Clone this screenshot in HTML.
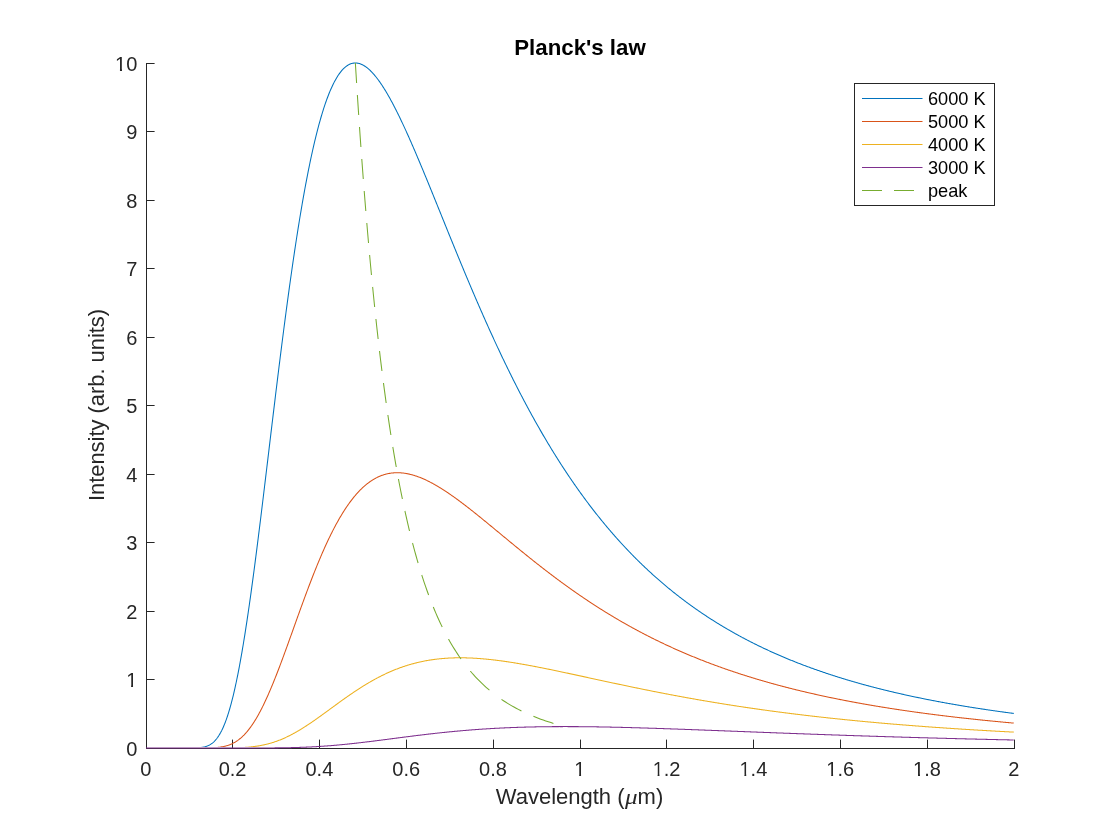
<!DOCTYPE html>
<html lang="en"><head><meta charset="utf-8"><title>Planck's law</title>
<style>html,body{margin:0;padding:0;background:#fff;}body{width:1120px;height:840px;overflow:hidden;}svg{display:block;}</style>
</head><body>
<svg width="1120" height="840" viewBox="0 0 1120 840">
<rect width="1120" height="840" fill="#fff"/>
<g fill="#262626" shape-rendering="crispEdges">
<rect x="146" y="63" width="1" height="686"/>
<rect x="146" y="748" width="869" height="1"/>
</g>
<g stroke="#262626" stroke-width="1">
<line x1="232.50" y1="739.6" x2="232.50" y2="748.5"/>
<line x1="319.50" y1="739.6" x2="319.50" y2="748.5"/>
<line x1="406.50" y1="739.6" x2="406.50" y2="748.5"/>
<line x1="493.50" y1="739.6" x2="493.50" y2="748.5"/>
<line x1="580.50" y1="739.6" x2="580.50" y2="748.5"/>
<line x1="666.50" y1="739.6" x2="666.50" y2="748.5"/>
<line x1="753.50" y1="739.6" x2="753.50" y2="748.5"/>
<line x1="840.50" y1="739.6" x2="840.50" y2="748.5"/>
<line x1="927.50" y1="739.6" x2="927.50" y2="748.5"/>
<line x1="1014.50" y1="739.6" x2="1014.50" y2="748.5"/>
<line x1="146.5" y1="679.50" x2="154.6" y2="679.50"/>
<line x1="146.5" y1="611.50" x2="154.6" y2="611.50"/>
<line x1="146.5" y1="542.50" x2="154.6" y2="542.50"/>
<line x1="146.5" y1="474.50" x2="154.6" y2="474.50"/>
<line x1="146.5" y1="405.50" x2="154.6" y2="405.50"/>
<line x1="146.5" y1="337.50" x2="154.6" y2="337.50"/>
<line x1="146.5" y1="268.50" x2="154.6" y2="268.50"/>
<line x1="146.5" y1="200.50" x2="154.6" y2="200.50"/>
<line x1="146.5" y1="131.50" x2="154.6" y2="131.50"/>
<line x1="146.5" y1="63.50" x2="154.6" y2="63.50"/>
</g>
<defs><clipPath id="cb" clipPathUnits="userSpaceOnUse"><rect x="0" y="0" width="1120" height="747"/></clipPath></defs>
<g clip-path="url(#cb)">
<polyline points="146.00,748.00 146.00,748.00 146.37,748.00 146.95,748.00 147.53,748.00 148.11,748.00 148.69,748.00 149.27,748.00 149.85,748.00 150.43,748.00 151.00,748.00 151.58,748.00 152.16,748.00 152.74,748.00 153.32,748.00 153.90,748.00 154.48,748.00 155.06,748.00 155.64,748.00 156.22,748.00 156.79,748.00 157.37,748.00 157.95,748.00 158.53,748.00 159.11,748.00 159.69,748.00 160.27,748.00 160.85,748.00 161.43,748.00 162.01,748.00 162.59,748.00 163.16,748.00 163.74,748.00 164.32,748.00 164.90,748.00 165.48,748.00 166.06,748.00 166.64,748.00 167.22,748.00 167.80,748.00 168.38,748.00 168.95,748.00 169.53,748.00 170.11,748.00 170.69,748.00 171.27,748.00 171.85,748.00 172.43,748.00 173.01,748.00 173.59,748.00 174.17,748.00 174.74,748.00 175.32,748.00 175.90,748.00 176.48,748.00 177.06,748.00 177.64,748.00 178.22,748.00 178.80,748.00 179.38,748.00 179.96,748.00 180.53,748.00 181.11,748.00 181.69,748.00 182.27,748.00 182.85,748.00 183.43,748.00 184.01,748.00 184.59,748.00 185.17,748.00 185.75,748.00 186.33,748.00 186.90,748.00 187.48,748.00 188.06,747.99 188.64,747.99 189.22,747.99 189.80,747.99 190.38,747.98 190.96,747.98 191.54,747.97 192.12,747.97 192.69,747.96 193.27,747.95 193.85,747.94 194.43,747.93 195.01,747.91 195.59,747.89 196.17,747.87 196.75,747.84 197.33,747.81 197.91,747.78 198.48,747.74 199.06,747.70 199.64,747.64 200.22,747.59 200.80,747.52 201.38,747.44 201.96,747.36 202.54,747.27 203.12,747.16 203.70,747.04 204.27,746.91 204.85,746.77 205.43,746.61 206.01,746.43 206.59,746.24 207.17,746.02 207.75,745.79 208.33,745.54 208.91,745.26 209.49,744.96 210.07,744.64 210.64,744.28 211.22,743.90 211.80,743.49 212.38,743.05 212.96,742.58 213.54,742.07 214.12,741.53 214.70,740.95 215.28,740.34 215.86,739.68 216.43,738.98 217.01,738.24 217.59,737.46 218.17,736.63 218.75,735.76 219.33,734.83 219.91,733.86 220.49,732.84 221.07,731.76 221.65,730.64 222.22,729.45 222.80,728.22 223.38,726.93 223.96,725.58 224.54,724.17 225.12,722.70 225.70,721.17 226.28,719.58 226.86,717.93 227.44,716.22 228.01,714.45 228.59,712.61 229.17,710.70 229.75,708.74 230.33,706.70 230.91,704.61 231.49,702.44 232.07,700.21 232.65,697.92 233.23,695.56 233.81,693.13 234.38,690.64 234.96,688.08 235.54,685.45 236.12,682.76 236.70,680.01 237.28,677.18 237.86,674.30 238.44,671.35 239.02,668.33 239.60,665.26 240.17,662.12 240.75,658.91 241.33,655.65 241.91,652.33 242.49,648.94 243.07,645.50 243.65,642.00 244.23,638.44 244.81,634.82 245.39,631.15 245.96,627.43 246.54,623.65 247.12,619.82 247.70,615.94 248.28,612.01 248.86,608.03 249.44,604.00 250.02,599.93 250.60,595.81 251.18,591.64 251.75,587.44 252.33,583.19 252.91,578.91 253.49,574.58 254.07,570.22 254.65,565.82 255.23,561.39 255.81,556.93 256.39,552.43 256.97,547.91 257.54,543.35 258.12,538.77 258.70,534.16 259.28,529.53 259.86,524.88 260.44,520.20 261.02,515.50 261.60,510.79 262.18,506.06 262.76,501.31 263.34,496.55 263.91,491.77 264.49,486.98 265.07,482.18 265.65,477.38 266.23,472.56 266.81,467.74 267.39,462.92 267.97,458.09 268.55,453.26 269.13,448.42 269.70,443.59 270.28,438.76 270.86,433.93 271.44,429.11 272.02,424.29 272.60,419.48 273.18,414.67 273.76,409.88 274.34,405.09 274.92,400.32 275.49,395.55 276.07,390.80 276.65,386.07 277.23,381.35 277.81,376.65 278.39,371.96 278.97,367.29 279.55,362.64 280.13,358.01 280.71,353.41 281.28,348.82 281.86,344.26 282.44,339.72 283.02,335.21 283.60,330.72 284.18,326.26 284.76,321.82 285.34,317.41 285.92,313.03 286.50,308.68 287.08,304.36 287.65,300.07 288.23,295.81 288.81,291.59 289.39,287.39 289.97,283.23 290.55,279.10 291.13,275.01 291.71,270.95 292.29,266.92 292.87,262.93 293.44,258.98 294.02,255.06 294.60,251.18 295.18,247.34 295.76,243.54 296.34,239.77 296.92,236.04 297.50,232.35 298.08,228.70 298.66,225.09 299.23,221.52 299.81,217.98 300.39,214.49 300.97,211.04 301.55,207.63 302.13,204.26 302.71,200.93 303.29,197.65 303.87,194.40 304.45,191.19 305.02,188.03 305.60,184.91 306.18,181.83 306.76,178.79 307.34,175.80 307.92,172.84 308.50,169.93 309.08,167.06 309.66,164.24 310.24,161.45 310.82,158.71 311.39,156.01 311.97,153.35 312.55,150.74 313.13,148.16 313.71,145.63 314.29,143.14 314.87,140.69 315.45,138.29 316.03,135.93 316.61,133.60 317.18,131.32 317.76,129.09 318.34,126.89 318.92,124.73 319.50,122.62 320.08,120.54 320.66,118.51 321.24,116.52 321.82,114.57 322.40,112.66 322.97,110.79 323.55,108.96 324.13,107.17 324.71,105.42 325.29,103.70 325.87,102.03 326.45,100.40 327.03,98.80 327.61,97.25 328.19,95.73 328.76,94.25 329.34,92.81 329.92,91.41 330.50,90.04 331.08,88.71 331.66,87.42 332.24,86.17 332.82,84.95 333.40,83.77 333.98,82.62 334.56,81.51 335.13,80.44 335.71,79.40 336.29,78.39 336.87,77.42 337.45,76.49 338.03,75.59 338.61,74.72 339.19,73.88 339.77,73.08 340.35,72.32 340.92,71.58 341.50,70.88 342.08,70.21 342.66,69.57 343.24,68.96 343.82,68.39 344.40,67.84 344.98,67.33 345.56,66.85 346.14,66.39 346.71,65.97 347.29,65.57 347.87,65.21 348.45,64.87 349.03,64.57 349.61,64.29 350.19,64.04 350.77,63.82 351.35,63.62 351.93,63.45 352.50,63.31 353.08,63.20 353.66,63.11 354.24,63.05 354.82,63.01 355.40,63.00 355.98,63.01 356.56,63.05 357.14,63.12 357.72,63.21 358.30,63.32 358.87,63.46 359.45,63.61 360.03,63.80 360.61,64.00 361.19,64.23 361.77,64.48 362.35,64.76 362.93,65.05 363.51,65.37 364.09,65.71 364.66,66.06 365.24,66.44 365.82,66.84 366.40,67.26 366.98,67.70 367.56,68.16 368.14,68.64 368.72,69.14 369.30,69.66 369.88,70.20 370.45,70.75 371.03,71.32 371.61,71.91 372.19,72.52 372.77,73.15 373.35,73.79 373.93,74.45 374.51,75.13 375.09,75.82 375.67,76.53 376.24,77.25 376.82,77.99 377.40,78.75 377.98,79.52 378.56,80.31 379.14,81.11 379.72,81.92 380.30,82.75 380.88,83.60 381.46,84.46 382.04,85.33 382.61,86.21 383.19,87.11 383.77,88.02 384.35,88.95 384.93,89.88 385.51,90.83 386.09,91.80 386.67,92.77 387.25,93.75 387.83,94.75 388.40,95.76 388.98,96.78 389.56,97.81 390.14,98.85 390.72,99.90 391.30,100.96 391.88,102.04 392.46,103.12 393.04,104.21 393.62,105.31 394.19,106.43 394.77,107.55 395.35,108.68 395.93,109.82 396.51,110.96 397.09,112.12 397.67,113.29 398.25,114.46 398.83,115.64 399.41,116.83 399.98,118.03 400.56,119.23 401.14,120.44 401.72,121.66 402.30,122.89 402.88,124.12 403.46,125.36 404.04,126.61 404.62,127.87 405.20,129.13 405.78,130.39 406.35,131.66 406.93,132.94 407.51,134.23 408.09,135.52 408.67,136.81 409.25,138.11 409.83,139.42 410.41,140.73 410.99,142.05 411.57,143.37 412.14,144.70 412.72,146.03 413.30,147.36 413.88,148.70 414.46,150.05 415.04,151.40 415.62,152.75 416.20,154.10 416.78,155.46 417.36,156.83 417.93,158.19 418.51,159.57 419.09,160.94 419.67,162.32 420.25,163.70 420.83,165.08 421.41,166.47 421.99,167.86 422.57,169.25 423.15,170.64 423.72,172.04 424.30,173.44 424.88,174.84 425.46,176.24 426.04,177.65 426.62,179.06 427.20,180.47 427.78,181.88 428.36,183.29 428.94,184.71 429.52,186.12 430.09,187.54 430.67,188.96 431.25,190.38 431.83,191.80 432.41,193.23 432.99,194.65 433.57,196.08 434.15,197.50 434.73,198.93 435.31,200.36 435.88,201.79 436.46,203.22 437.04,204.65 437.62,206.08 438.20,207.51 438.78,208.94 439.36,210.37 439.94,211.80 440.52,213.23 441.10,214.66 441.67,216.10 442.25,217.53 442.83,218.96 443.41,220.39 443.99,221.82 444.57,223.25 445.15,224.68 445.73,226.11 446.31,227.54 446.89,228.97 447.46,230.40 448.04,231.83 448.62,233.25 449.20,234.68 449.78,236.10 450.36,237.53 450.94,238.95 451.52,240.38 452.10,241.80 452.68,243.22 453.26,244.64 453.83,246.05 454.41,247.47 454.99,248.89 455.57,250.30 456.15,251.72 456.73,253.13 457.31,254.54 457.89,255.95 458.47,257.35 459.05,258.76 459.62,260.16 460.20,261.57 460.78,262.97 461.36,264.37 461.94,265.76 462.52,267.16 463.10,268.55 463.68,269.94 464.26,271.33 464.84,272.72 465.41,274.11 465.99,275.49 466.57,276.88 467.15,278.26 467.73,279.63 468.31,281.01 468.89,282.38 469.47,283.76 470.05,285.12 470.63,286.49 471.20,287.86 471.78,289.22 472.36,290.58 472.94,291.94 473.52,293.29 474.10,294.65 474.68,296.00 475.26,297.35 475.84,298.69 476.42,300.04 476.99,301.38 477.57,302.72 478.15,304.05 478.73,305.39 479.31,306.72 479.89,308.05 480.47,309.37 481.05,310.70 481.63,312.02 482.21,313.33 482.79,314.65 483.36,315.96 483.94,317.27 484.52,318.58 485.10,319.88 485.68,321.18 486.26,322.48 486.84,323.78 487.42,325.07 488.00,326.36 488.58,327.65 489.15,328.93 489.73,330.21 490.31,331.49 490.89,332.77 491.47,334.04 492.05,335.31 492.63,336.58 493.21,337.84 493.79,339.10 494.37,340.36 494.94,341.62 495.52,342.87 496.10,344.12 496.68,345.36 497.26,346.61 497.84,347.85 498.42,349.08 499.00,350.32 499.58,351.55 500.16,352.77 500.73,354.00 501.31,355.22 501.89,356.44 502.47,357.65 503.05,358.87 503.63,360.08 504.21,361.28 504.79,362.49 505.37,363.69 505.95,364.88 506.53,366.08 507.10,367.27 507.68,368.45 508.26,369.64 508.84,370.82 509.42,372.00 510.00,373.17 510.58,374.34 511.16,375.51 511.74,376.68 512.32,377.84 512.89,379.00 513.47,380.15 514.05,381.30 514.63,382.45 515.21,383.60 515.79,384.74 516.37,385.88 516.95,387.02 517.53,388.15 518.11,389.28 518.68,390.41 519.26,391.53 519.84,392.65 520.42,393.77 521.00,394.88 521.58,396.00 522.16,397.10 522.74,398.21 523.32,399.31 523.90,400.41 524.47,401.50 525.05,402.59 525.63,403.68 526.21,404.77 526.79,405.85 527.37,406.93 527.95,408.01 528.53,409.08 529.11,410.15 529.69,411.21 530.27,412.28 530.84,413.34 531.42,414.39 532.00,415.45 532.58,416.50 533.16,417.55 533.74,418.59 534.32,419.63 534.90,420.67 535.48,421.70 536.06,422.73 536.63,423.76 537.21,424.79 537.79,425.81 538.37,426.83 538.95,427.84 539.53,428.86 540.11,429.87 540.69,430.87 541.27,431.88 541.85,432.88 542.42,433.87 543.00,434.87 543.58,435.86 544.16,436.85 544.74,437.83 545.32,438.81 545.90,439.79 546.48,440.77 547.06,441.74 547.64,442.71 548.21,443.68 548.79,444.64 549.37,445.60 549.95,446.56 550.53,447.51 551.11,448.46 551.69,449.41 552.27,450.35 552.85,451.30 553.43,452.24 554.01,453.17 554.58,454.10 555.16,455.03 555.74,455.96 556.32,456.88 556.90,457.81 557.48,458.72 558.06,459.64 558.64,460.55 559.22,461.46 559.80,462.37 560.37,463.27 560.95,464.17 561.53,465.07 562.11,465.96 562.69,466.85 563.27,467.74 563.85,468.63 564.43,469.51 565.01,470.39 565.59,471.27 566.16,472.14 566.74,473.01 567.32,473.88 567.90,474.75 568.48,475.61 569.06,476.47 569.64,477.33 570.22,478.18 570.80,479.03 571.38,479.88 571.95,480.73 572.53,481.57 573.11,482.41 573.69,483.25 574.27,484.08 574.85,484.91 575.43,485.74 576.01,486.57 576.59,487.39 577.17,488.21 577.75,489.03 578.32,489.85 578.90,490.66 579.48,491.47 580.06,492.28 580.64,493.08 581.22,493.88 581.80,494.68 582.38,495.48 582.96,496.27 583.54,497.06 584.11,497.85 584.69,498.64 585.27,499.42 585.85,500.20 586.43,500.98 587.01,501.76 587.59,502.53 588.17,503.30 588.75,504.07 589.33,504.83 589.90,505.59 590.48,506.35 591.06,507.11 591.64,507.86 592.22,508.62 592.80,509.36 593.38,510.11 593.96,510.86 594.54,511.60 595.12,512.34 595.69,513.07 596.27,513.81 596.85,514.54 597.43,515.27 598.01,516.00 598.59,516.72 599.17,517.44 599.75,518.16 600.33,518.88 600.91,519.59 601.49,520.31 602.06,521.02 602.64,521.72 603.22,522.43 603.80,523.13 604.38,523.83 604.96,524.53 605.54,525.22 606.12,525.92 606.70,526.61 607.28,527.29 607.85,527.98 608.43,528.66 609.01,529.34 609.59,530.02 610.17,530.70 610.75,531.37 611.33,532.05 611.91,532.71 612.49,533.38 613.07,534.05 613.64,534.71 614.22,535.37 614.80,536.03 615.38,536.68 615.96,537.34 616.54,537.99 617.12,538.64 617.70,539.28 618.28,539.93 618.86,540.57 619.43,541.21 620.01,541.85 620.59,542.49 621.17,543.12 621.75,543.75 622.33,544.38 622.91,545.01 623.49,545.63 624.07,546.25 624.65,546.87 625.23,547.49 625.80,548.11 626.38,548.72 626.96,549.34 627.54,549.95 628.12,550.55 628.70,551.16 629.28,551.76 629.86,552.36 630.44,552.96 631.02,553.56 631.59,554.16 632.17,554.75 632.75,555.34 633.33,555.93 633.91,556.52 634.49,557.10 635.07,557.69 635.65,558.27 636.23,558.85 636.81,559.42 637.38,560.00 637.96,560.57 638.54,561.14 639.12,561.71 639.70,562.28 640.28,562.85 640.86,563.41 641.44,563.97 642.02,564.53 642.60,565.09 643.17,565.64 643.75,566.20 644.33,566.75 644.91,567.30 645.49,567.85 646.07,568.39 646.65,568.94 647.23,569.48 647.81,570.02 648.39,570.56 648.97,571.10 649.54,571.63 650.12,572.16 650.70,572.70 651.28,573.23 651.86,573.75 652.44,574.28 653.02,574.80 653.60,575.32 654.18,575.85 654.76,576.36 655.33,576.88 655.91,577.40 656.49,577.91 657.07,578.42 657.65,578.93 658.23,579.44 658.81,579.94 659.39,580.45 659.97,580.95 660.55,581.45 661.12,581.95 661.70,582.45 662.28,582.94 662.86,583.44 663.44,583.93 664.02,584.42 664.60,584.91 665.18,585.40 665.76,585.88 666.34,586.37 666.91,586.85 667.49,587.33 668.07,587.81 668.65,588.29 669.23,588.76 669.81,589.24 670.39,589.71 670.97,590.18 671.55,590.65 672.13,591.12 672.71,591.58 673.28,592.05 673.86,592.51 674.44,592.97 675.02,593.43 675.60,593.89 676.18,594.35 676.76,594.80 677.34,595.25 677.92,595.71 678.50,596.16 679.07,596.61 679.65,597.05 680.23,597.50 680.81,597.94 681.39,598.39 681.97,598.83 682.55,599.27 683.13,599.70 683.71,600.14 684.29,600.58 684.86,601.01 685.44,601.44 686.02,601.87 686.60,602.30 687.18,602.73 687.76,603.16 688.34,603.58 688.92,604.00 689.50,604.43 690.08,604.85 690.65,605.27 691.23,605.68 691.81,606.10 692.39,606.51 692.97,606.93 693.55,607.34 694.13,607.75 694.71,608.16 695.29,608.57 695.87,608.97 696.44,609.38 697.02,609.78 697.60,610.18 698.18,610.58 698.76,610.98 699.34,611.38 699.92,611.78 700.50,612.17 701.08,612.57 701.66,612.96 702.24,613.35 702.81,613.74 703.39,614.13 703.97,614.52 704.55,614.91 705.13,615.29 705.71,615.67 706.29,616.06 706.87,616.44 707.45,616.82 708.03,617.19 708.60,617.57 709.18,617.95 709.76,618.32 710.34,618.70 710.92,619.07 711.50,619.44 712.08,619.81 712.66,620.18 713.24,620.54 713.82,620.91 714.39,621.27 714.97,621.64 715.55,622.00 716.13,622.36 716.71,622.72 717.29,623.08 717.87,623.43 718.45,623.79 719.03,624.15 719.61,624.50 720.18,624.85 720.76,625.20 721.34,625.55 721.92,625.90 722.50,626.25 723.08,626.60 723.66,626.94 724.24,627.29 724.82,627.63 725.40,627.97 725.98,628.31 726.55,628.65 727.13,628.99 727.71,629.33 728.29,629.66 728.87,630.00 729.45,630.33 730.03,630.67 730.61,631.00 731.19,631.33 731.77,631.66 732.34,631.99 732.92,632.31 733.50,632.64 734.08,632.96 734.66,633.29 735.24,633.61 735.82,633.93 736.40,634.25 736.98,634.57 737.56,634.89 738.13,635.21 738.71,635.53 739.29,635.84 739.87,636.16 740.45,636.47 741.03,636.78 741.61,637.09 742.19,637.41 742.77,637.71 743.35,638.02 743.92,638.33 744.50,638.64 745.08,638.94 745.66,639.25 746.24,639.55 746.82,639.85 747.40,640.15 747.98,640.45 748.56,640.75 749.14,641.05 749.72,641.35 750.29,641.64 750.87,641.94 751.45,642.23 752.03,642.53 752.61,642.82 753.19,643.11 753.77,643.40 754.35,643.69 754.93,643.98 755.51,644.27 756.08,644.55 756.66,644.84 757.24,645.12 757.82,645.41 758.40,645.69 758.98,645.97 759.56,646.25 760.14,646.53 760.72,646.81 761.30,647.09 761.87,647.37 762.45,647.65 763.03,647.92 763.61,648.20 764.19,648.47 764.77,648.74 765.35,649.01 765.93,649.29 766.51,649.56 767.09,649.82 767.66,650.09 768.24,650.36 768.82,650.63 769.40,650.89 769.98,651.16 770.56,651.42 771.14,651.69 771.72,651.95 772.30,652.21 772.88,652.47 773.46,652.73 774.03,652.99 774.61,653.25 775.19,653.50 775.77,653.76 776.35,654.02 776.93,654.27 777.51,654.53 778.09,654.78 778.67,655.03 779.25,655.28 779.82,655.53 780.40,655.78 780.98,656.03 781.56,656.28 782.14,656.53 782.72,656.77 783.30,657.02 783.88,657.27 784.46,657.51 785.04,657.75 785.61,658.00 786.19,658.24 786.77,658.48 787.35,658.72 787.93,658.96 788.51,659.20 789.09,659.44 789.67,659.67 790.25,659.91 790.83,660.15 791.40,660.38 791.98,660.61 792.56,660.85 793.14,661.08 793.72,661.31 794.30,661.54 794.88,661.78 795.46,662.00 796.04,662.23 796.62,662.46 797.20,662.69 797.77,662.92 798.35,663.14 798.93,663.37 799.51,663.59 800.09,663.82 800.67,664.04 801.25,664.26 801.83,664.49 802.41,664.71 802.99,664.93 803.56,665.15 804.14,665.37 804.72,665.58 805.30,665.80 805.88,666.02 806.46,666.23 807.04,666.45 807.62,666.67 808.20,666.88 808.78,667.09 809.35,667.31 809.93,667.52 810.51,667.73 811.09,667.94 811.67,668.15 812.25,668.36 812.83,668.57 813.41,668.78 813.99,668.99 814.57,669.19 815.14,669.40 815.72,669.60 816.30,669.81 816.88,670.01 817.46,670.22 818.04,670.42 818.62,670.62 819.20,670.82 819.78,671.03 820.36,671.23 820.94,671.43 821.51,671.62 822.09,671.82 822.67,672.02 823.25,672.22 823.83,672.42 824.41,672.61 824.99,672.81 825.57,673.00 826.15,673.20 826.73,673.39 827.30,673.58 827.88,673.78 828.46,673.97 829.04,674.16 829.62,674.35 830.20,674.54 830.78,674.73 831.36,674.92 831.94,675.11 832.52,675.29 833.09,675.48 833.67,675.67 834.25,675.85 834.83,676.04 835.41,676.22 835.99,676.41 836.57,676.59 837.15,676.78 837.73,676.96 838.31,677.14 838.88,677.32 839.46,677.50 840.04,677.68 840.62,677.86 841.20,678.04 841.78,678.22 842.36,678.40 842.94,678.58 843.52,678.75 844.10,678.93 844.68,679.10 845.25,679.28 845.83,679.46 846.41,679.63 846.99,679.80 847.57,679.98 848.15,680.15 848.73,680.32 849.31,680.49 849.89,680.66 850.47,680.83 851.04,681.00 851.62,681.17 852.20,681.34 852.78,681.51 853.36,681.68 853.94,681.85 854.52,682.01 855.10,682.18 855.68,682.35 856.26,682.51 856.83,682.68 857.41,682.84 857.99,683.01 858.57,683.17 859.15,683.33 859.73,683.49 860.31,683.66 860.89,683.82 861.47,683.98 862.05,684.14 862.62,684.30 863.20,684.46 863.78,684.62 864.36,684.78 864.94,684.93 865.52,685.09 866.10,685.25 866.68,685.40 867.26,685.56 867.84,685.72 868.42,685.87 868.99,686.03 869.57,686.18 870.15,686.33 870.73,686.49 871.31,686.64 871.89,686.79 872.47,686.95 873.05,687.10 873.63,687.25 874.21,687.40 874.78,687.55 875.36,687.70 875.94,687.85 876.52,688.00 877.10,688.14 877.68,688.29 878.26,688.44 878.84,688.59 879.42,688.73 880.00,688.88 880.57,689.02 881.15,689.17 881.73,689.31 882.31,689.46 882.89,689.60 883.47,689.75 884.05,689.89 884.63,690.03 885.21,690.17 885.79,690.32 886.36,690.46 886.94,690.60 887.52,690.74 888.10,690.88 888.68,691.02 889.26,691.16 889.84,691.30 890.42,691.44 891.00,691.57 891.58,691.71 892.16,691.85 892.73,691.99 893.31,692.12 893.89,692.26 894.47,692.39 895.05,692.53 895.63,692.66 896.21,692.80 896.79,692.93 897.37,693.07 897.95,693.20 898.52,693.33 899.10,693.46 899.68,693.60 900.26,693.73 900.84,693.86 901.42,693.99 902.00,694.12 902.58,694.25 903.16,694.38 903.74,694.51 904.31,694.64 904.89,694.77 905.47,694.90 906.05,695.02 906.63,695.15 907.21,695.28 907.79,695.40 908.37,695.53 908.95,695.66 909.53,695.78 910.10,695.91 910.68,696.03 911.26,696.16 911.84,696.28 912.42,696.41 913.00,696.53 913.58,696.65 914.16,696.77 914.74,696.90 915.32,697.02 915.89,697.14 916.47,697.26 917.05,697.38 917.63,697.50 918.21,697.62 918.79,697.74 919.37,697.86 919.95,697.98 920.53,698.10 921.11,698.22 921.69,698.34 922.26,698.46 922.84,698.57 923.42,698.69 924.00,698.81 924.58,698.92 925.16,699.04 925.74,699.16 926.32,699.27 926.90,699.39 927.48,699.50 928.05,699.62 928.63,699.73 929.21,699.84 929.79,699.96 930.37,700.07 930.95,700.18 931.53,700.30 932.11,700.41 932.69,700.52 933.27,700.63 933.84,700.74 934.42,700.85 935.00,700.96 935.58,701.07 936.16,701.18 936.74,701.29 937.32,701.40 937.90,701.51 938.48,701.62 939.06,701.73 939.63,701.84 940.21,701.94 940.79,702.05 941.37,702.16 941.95,702.27 942.53,702.37 943.11,702.48 943.69,702.58 944.27,702.69 944.85,702.80 945.43,702.90 946.00,703.01 946.58,703.11 947.16,703.21 947.74,703.32 948.32,703.42 948.90,703.52 949.48,703.63 950.06,703.73 950.64,703.83 951.22,703.93 951.79,704.04 952.37,704.14 952.95,704.24 953.53,704.34 954.11,704.44 954.69,704.54 955.27,704.64 955.85,704.74 956.43,704.84 957.01,704.94 957.58,705.04 958.16,705.14 958.74,705.24 959.32,705.33 959.90,705.43 960.48,705.53 961.06,705.63 961.64,705.72 962.22,705.82 962.80,705.92 963.37,706.01 963.95,706.11 964.53,706.21 965.11,706.30 965.69,706.40 966.27,706.49 966.85,706.59 967.43,706.68 968.01,706.77 968.59,706.87 969.17,706.96 969.74,707.05 970.32,707.15 970.90,707.24 971.48,707.33 972.06,707.43 972.64,707.52 973.22,707.61 973.80,707.70 974.38,707.79 974.96,707.88 975.53,707.97 976.11,708.06 976.69,708.15 977.27,708.24 977.85,708.33 978.43,708.42 979.01,708.51 979.59,708.60 980.17,708.69 980.75,708.78 981.32,708.87 981.90,708.96 982.48,709.04 983.06,709.13 983.64,709.22 984.22,709.31 984.80,709.39 985.38,709.48 985.96,709.57 986.54,709.65 987.11,709.74 987.69,709.82 988.27,709.91 988.85,709.99 989.43,710.08 990.01,710.16 990.59,710.25 991.17,710.33 991.75,710.42 992.33,710.50 992.91,710.58 993.48,710.67 994.06,710.75 994.64,710.83 995.22,710.92 995.80,711.00 996.38,711.08 996.96,711.16 997.54,711.24 998.12,711.33 998.70,711.41 999.27,711.49 999.85,711.57 1000.43,711.65 1001.01,711.73 1001.59,711.81 1002.17,711.89 1002.75,711.97 1003.33,712.05 1003.91,712.13 1004.49,712.21 1005.06,712.29 1005.64,712.37 1006.22,712.44 1006.80,712.52 1007.38,712.60 1007.96,712.68 1008.54,712.76 1009.12,712.83 1009.70,712.91 1010.28,712.99 1010.85,713.06 1011.43,713.14 1012.01,713.22 1012.59,713.29 1013.17,713.37 1013.75,713.45" fill="none" stroke="#0072BD" stroke-width="1.05" stroke-linejoin="round"/>
<polyline points="146.00,748.00 146.00,748.00 146.37,748.00 146.95,748.00 147.53,748.00 148.11,748.00 148.69,748.00 149.27,748.00 149.85,748.00 150.43,748.00 151.00,748.00 151.58,748.00 152.16,748.00 152.74,748.00 153.32,748.00 153.90,748.00 154.48,748.00 155.06,748.00 155.64,748.00 156.22,748.00 156.79,748.00 157.37,748.00 157.95,748.00 158.53,748.00 159.11,748.00 159.69,748.00 160.27,748.00 160.85,748.00 161.43,748.00 162.01,748.00 162.59,748.00 163.16,748.00 163.74,748.00 164.32,748.00 164.90,748.00 165.48,748.00 166.06,748.00 166.64,748.00 167.22,748.00 167.80,748.00 168.38,748.00 168.95,748.00 169.53,748.00 170.11,748.00 170.69,748.00 171.27,748.00 171.85,748.00 172.43,748.00 173.01,748.00 173.59,748.00 174.17,748.00 174.74,748.00 175.32,748.00 175.90,748.00 176.48,748.00 177.06,748.00 177.64,748.00 178.22,748.00 178.80,748.00 179.38,748.00 179.96,748.00 180.53,748.00 181.11,748.00 181.69,748.00 182.27,748.00 182.85,748.00 183.43,748.00 184.01,748.00 184.59,748.00 185.17,748.00 185.75,748.00 186.33,748.00 186.90,748.00 187.48,748.00 188.06,748.00 188.64,748.00 189.22,748.00 189.80,748.00 190.38,748.00 190.96,748.00 191.54,748.00 192.12,748.00 192.69,748.00 193.27,748.00 193.85,748.00 194.43,748.00 195.01,748.00 195.59,748.00 196.17,748.00 196.75,748.00 197.33,748.00 197.91,748.00 198.48,747.99 199.06,747.99 199.64,747.99 200.22,747.99 200.80,747.99 201.38,747.99 201.96,747.98 202.54,747.98 203.12,747.98 203.70,747.97 204.27,747.97 204.85,747.96 205.43,747.96 206.01,747.95 206.59,747.94 207.17,747.93 207.75,747.92 208.33,747.91 208.91,747.90 209.49,747.88 210.07,747.87 210.64,747.85 211.22,747.83 211.80,747.81 212.38,747.78 212.96,747.76 213.54,747.73 214.12,747.69 214.70,747.66 215.28,747.62 215.86,747.57 216.43,747.53 217.01,747.47 217.59,747.42 218.17,747.36 218.75,747.29 219.33,747.22 219.91,747.15 220.49,747.06 221.07,746.98 221.65,746.88 222.22,746.78 222.80,746.67 223.38,746.56 223.96,746.43 224.54,746.30 225.12,746.16 225.70,746.01 226.28,745.86 226.86,745.69 227.44,745.51 228.01,745.33 228.59,745.13 229.17,744.92 229.75,744.70 230.33,744.48 230.91,744.23 231.49,743.98 232.07,743.71 232.65,743.44 233.23,743.14 233.81,742.84 234.38,742.52 234.96,742.19 235.54,741.84 236.12,741.48 236.70,741.10 237.28,740.71 237.86,740.31 238.44,739.89 239.02,739.45 239.60,738.99 240.17,738.53 240.75,738.04 241.33,737.54 241.91,737.02 242.49,736.48 243.07,735.93 243.65,735.35 244.23,734.77 244.81,734.16 245.39,733.53 245.96,732.89 246.54,732.23 247.12,731.55 247.70,730.86 248.28,730.14 248.86,729.41 249.44,728.66 250.02,727.89 250.60,727.10 251.18,726.29 251.75,725.46 252.33,724.62 252.91,723.76 253.49,722.88 254.07,721.98 254.65,721.06 255.23,720.13 255.81,719.17 256.39,718.20 256.97,717.21 257.54,716.20 258.12,715.18 258.70,714.13 259.28,713.07 259.86,712.00 260.44,710.90 261.02,709.79 261.60,708.66 262.18,707.52 262.76,706.36 263.34,705.18 263.91,703.99 264.49,702.78 265.07,701.55 265.65,700.31 266.23,699.06 266.81,697.79 267.39,696.51 267.97,695.21 268.55,693.90 269.13,692.57 269.70,691.23 270.28,689.88 270.86,688.51 271.44,687.13 272.02,685.74 272.60,684.34 273.18,682.93 273.76,681.50 274.34,680.07 274.92,678.62 275.49,677.16 276.07,675.70 276.65,674.22 277.23,672.73 277.81,671.24 278.39,669.73 278.97,668.22 279.55,666.70 280.13,665.17 280.71,663.63 281.28,662.09 281.86,660.54 282.44,658.98 283.02,657.42 283.60,655.85 284.18,654.27 284.76,652.69 285.34,651.11 285.92,649.52 286.50,647.93 287.08,646.33 287.65,644.73 288.23,643.13 288.81,641.52 289.39,639.91 289.97,638.30 290.55,636.69 291.13,635.07 291.71,633.46 292.29,631.84 292.87,630.22 293.44,628.60 294.02,626.98 294.60,625.37 295.18,623.75 295.76,622.13 296.34,620.51 296.92,618.90 297.50,617.29 298.08,615.68 298.66,614.07 299.23,612.46 299.81,610.86 300.39,609.26 300.97,607.66 301.55,606.07 302.13,604.47 302.71,602.89 303.29,601.31 303.87,599.73 304.45,598.16 305.02,596.59 305.60,595.03 306.18,593.47 306.76,591.92 307.34,590.37 307.92,588.83 308.50,587.30 309.08,585.77 309.66,584.25 310.24,582.73 310.82,581.23 311.39,579.73 311.97,578.23 312.55,576.75 313.13,575.27 313.71,573.80 314.29,572.34 314.87,570.89 315.45,569.45 316.03,568.01 316.61,566.58 317.18,565.16 317.76,563.75 318.34,562.35 318.92,560.96 319.50,559.58 320.08,558.21 320.66,556.85 321.24,555.49 321.82,554.15 322.40,552.82 322.97,551.49 323.55,550.18 324.13,548.88 324.71,547.59 325.29,546.30 325.87,545.03 326.45,543.77 327.03,542.52 327.61,541.28 328.19,540.05 328.76,538.84 329.34,537.63 329.92,536.44 330.50,535.25 331.08,534.08 331.66,532.92 332.24,531.77 332.82,530.63 333.40,529.50 333.98,528.38 334.56,527.28 335.13,526.19 335.71,525.11 336.29,524.04 336.87,522.98 337.45,521.93 338.03,520.90 338.61,519.87 339.19,518.86 339.77,517.86 340.35,516.87 340.92,515.90 341.50,514.93 342.08,513.98 342.66,513.04 343.24,512.11 343.82,511.19 344.40,510.29 344.98,509.39 345.56,508.51 346.14,507.64 346.71,506.78 347.29,505.93 347.87,505.10 348.45,504.28 349.03,503.46 349.61,502.66 350.19,501.88 350.77,501.10 351.35,500.33 351.93,499.58 352.50,498.84 353.08,498.11 353.66,497.39 354.24,496.68 354.82,495.99 355.40,495.30 355.98,494.63 356.56,493.97 357.14,493.32 357.72,492.68 358.30,492.05 358.87,491.44 359.45,490.83 360.03,490.24 360.61,489.65 361.19,489.08 361.77,488.52 362.35,487.97 362.93,487.43 363.51,486.90 364.09,486.38 364.66,485.88 365.24,485.38 365.82,484.89 366.40,484.42 366.98,483.95 367.56,483.50 368.14,483.05 368.72,482.62 369.30,482.20 369.88,481.78 370.45,481.38 371.03,480.99 371.61,480.61 372.19,480.23 372.77,479.87 373.35,479.52 373.93,479.17 374.51,478.84 375.09,478.51 375.67,478.20 376.24,477.90 376.82,477.60 377.40,477.31 377.98,477.04 378.56,476.77 379.14,476.51 379.72,476.26 380.30,476.02 380.88,475.79 381.46,475.57 382.04,475.36 382.61,475.15 383.19,474.96 383.77,474.77 384.35,474.59 384.93,474.42 385.51,474.26 386.09,474.11 386.67,473.96 387.25,473.83 387.83,473.70 388.40,473.58 388.98,473.47 389.56,473.37 390.14,473.27 390.72,473.18 391.30,473.10 391.88,473.03 392.46,472.96 393.04,472.91 393.62,472.86 394.19,472.82 394.77,472.78 395.35,472.75 395.93,472.73 396.51,472.72 397.09,472.71 397.67,472.72 398.25,472.72 398.83,472.74 399.41,472.76 399.98,472.79 400.56,472.83 401.14,472.87 401.72,472.92 402.30,472.97 402.88,473.03 403.46,473.10 404.04,473.18 404.62,473.26 405.20,473.34 405.78,473.44 406.35,473.54 406.93,473.64 407.51,473.75 408.09,473.87 408.67,473.99 409.25,474.12 409.83,474.26 410.41,474.40 410.99,474.54 411.57,474.69 412.14,474.85 412.72,475.01 413.30,475.18 413.88,475.35 414.46,475.53 415.04,475.71 415.62,475.90 416.20,476.09 416.78,476.29 417.36,476.50 417.93,476.70 418.51,476.92 419.09,477.13 419.67,477.36 420.25,477.58 420.83,477.82 421.41,478.05 421.99,478.29 422.57,478.54 423.15,478.79 423.72,479.04 424.30,479.30 424.88,479.56 425.46,479.83 426.04,480.10 426.62,480.37 427.20,480.65 427.78,480.93 428.36,481.22 428.94,481.51 429.52,481.80 430.09,482.10 430.67,482.40 431.25,482.70 431.83,483.01 432.41,483.32 432.99,483.64 433.57,483.96 434.15,484.28 434.73,484.61 435.31,484.94 435.88,485.27 436.46,485.60 437.04,485.94 437.62,486.28 438.20,486.63 438.78,486.98 439.36,487.33 439.94,487.68 440.52,488.04 441.10,488.40 441.67,488.76 442.25,489.12 442.83,489.49 443.41,489.86 443.99,490.24 444.57,490.61 445.15,490.99 445.73,491.37 446.31,491.75 446.89,492.14 447.46,492.53 448.04,492.92 448.62,493.31 449.20,493.70 449.78,494.10 450.36,494.50 450.94,494.90 451.52,495.31 452.10,495.71 452.68,496.12 453.26,496.53 453.83,496.94 454.41,497.35 454.99,497.77 455.57,498.19 456.15,498.61 456.73,499.03 457.31,499.45 457.89,499.88 458.47,500.30 459.05,500.73 459.62,501.16 460.20,501.59 460.78,502.02 461.36,502.46 461.94,502.89 462.52,503.33 463.10,503.77 463.68,504.21 464.26,504.65 464.84,505.10 465.41,505.54 465.99,505.98 466.57,506.43 467.15,506.88 467.73,507.33 468.31,507.78 468.89,508.23 469.47,508.68 470.05,509.14 470.63,509.59 471.20,510.05 471.78,510.51 472.36,510.96 472.94,511.42 473.52,511.88 474.10,512.34 474.68,512.80 475.26,513.27 475.84,513.73 476.42,514.19 476.99,514.66 477.57,515.13 478.15,515.59 478.73,516.06 479.31,516.53 479.89,517.00 480.47,517.46 481.05,517.93 481.63,518.40 482.21,518.88 482.79,519.35 483.36,519.82 483.94,520.29 484.52,520.77 485.10,521.24 485.68,521.71 486.26,522.19 486.84,522.66 487.42,523.14 488.00,523.61 488.58,524.09 489.15,524.57 489.73,525.04 490.31,525.52 490.89,526.00 491.47,526.47 492.05,526.95 492.63,527.43 493.21,527.91 493.79,528.39 494.37,528.87 494.94,529.34 495.52,529.82 496.10,530.30 496.68,530.78 497.26,531.26 497.84,531.74 498.42,532.22 499.00,532.70 499.58,533.18 500.16,533.66 500.73,534.14 501.31,534.62 501.89,535.10 502.47,535.58 503.05,536.05 503.63,536.53 504.21,537.01 504.79,537.49 505.37,537.97 505.95,538.45 506.53,538.93 507.10,539.41 507.68,539.89 508.26,540.36 508.84,540.84 509.42,541.32 510.00,541.80 510.58,542.27 511.16,542.75 511.74,543.23 512.32,543.70 512.89,544.18 513.47,544.66 514.05,545.13 514.63,545.61 515.21,546.08 515.79,546.56 516.37,547.03 516.95,547.51 517.53,547.98 518.11,548.45 518.68,548.93 519.26,549.40 519.84,549.87 520.42,550.34 521.00,550.81 521.58,551.28 522.16,551.75 522.74,552.22 523.32,552.69 523.90,553.16 524.47,553.63 525.05,554.10 525.63,554.57 526.21,555.03 526.79,555.50 527.37,555.97 527.95,556.43 528.53,556.90 529.11,557.36 529.69,557.83 530.27,558.29 530.84,558.75 531.42,559.21 532.00,559.67 532.58,560.14 533.16,560.60 533.74,561.06 534.32,561.52 534.90,561.97 535.48,562.43 536.06,562.89 536.63,563.35 537.21,563.80 537.79,564.26 538.37,564.71 538.95,565.17 539.53,565.62 540.11,566.07 540.69,566.52 541.27,566.98 541.85,567.43 542.42,567.88 543.00,568.33 543.58,568.78 544.16,569.22 544.74,569.67 545.32,570.12 545.90,570.56 546.48,571.01 547.06,571.45 547.64,571.90 548.21,572.34 548.79,572.78 549.37,573.22 549.95,573.66 550.53,574.10 551.11,574.54 551.69,574.98 552.27,575.42 552.85,575.85 553.43,576.29 554.01,576.73 554.58,577.16 555.16,577.59 555.74,578.03 556.32,578.46 556.90,578.89 557.48,579.32 558.06,579.75 558.64,580.18 559.22,580.61 559.80,581.04 560.37,581.46 560.95,581.89 561.53,582.31 562.11,582.74 562.69,583.16 563.27,583.58 563.85,584.00 564.43,584.42 565.01,584.84 565.59,585.26 566.16,585.68 566.74,586.10 567.32,586.52 567.90,586.93 568.48,587.35 569.06,587.76 569.64,588.17 570.22,588.59 570.80,589.00 571.38,589.41 571.95,589.82 572.53,590.23 573.11,590.63 573.69,591.04 574.27,591.45 574.85,591.85 575.43,592.26 576.01,592.66 576.59,593.06 577.17,593.47 577.75,593.87 578.32,594.27 578.90,594.67 579.48,595.07 580.06,595.46 580.64,595.86 581.22,596.26 581.80,596.65 582.38,597.04 582.96,597.44 583.54,597.83 584.11,598.22 584.69,598.61 585.27,599.00 585.85,599.39 586.43,599.78 587.01,600.16 587.59,600.55 588.17,600.94 588.75,601.32 589.33,601.70 589.90,602.09 590.48,602.47 591.06,602.85 591.64,603.23 592.22,603.61 592.80,603.98 593.38,604.36 593.96,604.74 594.54,605.11 595.12,605.49 595.69,605.86 596.27,606.23 596.85,606.61 597.43,606.98 598.01,607.35 598.59,607.72 599.17,608.08 599.75,608.45 600.33,608.82 600.91,609.18 601.49,609.55 602.06,609.91 602.64,610.28 603.22,610.64 603.80,611.00 604.38,611.36 604.96,611.72 605.54,612.08 606.12,612.43 606.70,612.79 607.28,613.15 607.85,613.50 608.43,613.86 609.01,614.21 609.59,614.56 610.17,614.91 610.75,615.26 611.33,615.61 611.91,615.96 612.49,616.31 613.07,616.66 613.64,617.00 614.22,617.35 614.80,617.69 615.38,618.03 615.96,618.38 616.54,618.72 617.12,619.06 617.70,619.40 618.28,619.74 618.86,620.08 619.43,620.41 620.01,620.75 620.59,621.09 621.17,621.42 621.75,621.75 622.33,622.09 622.91,622.42 623.49,622.75 624.07,623.08 624.65,623.41 625.23,623.74 625.80,624.07 626.38,624.39 626.96,624.72 627.54,625.05 628.12,625.37 628.70,625.69 629.28,626.02 629.86,626.34 630.44,626.66 631.02,626.98 631.59,627.30 632.17,627.62 632.75,627.93 633.33,628.25 633.91,628.57 634.49,628.88 635.07,629.20 635.65,629.51 636.23,629.82 636.81,630.13 637.38,630.45 637.96,630.76 638.54,631.06 639.12,631.37 639.70,631.68 640.28,631.99 640.86,632.29 641.44,632.60 642.02,632.90 642.60,633.21 643.17,633.51 643.75,633.81 644.33,634.11 644.91,634.41 645.49,634.71 646.07,635.01 646.65,635.31 647.23,635.60 647.81,635.90 648.39,636.20 648.97,636.49 649.54,636.78 650.12,637.08 650.70,637.37 651.28,637.66 651.86,637.95 652.44,638.24 653.02,638.53 653.60,638.82 654.18,639.10 654.76,639.39 655.33,639.68 655.91,639.96 656.49,640.24 657.07,640.53 657.65,640.81 658.23,641.09 658.81,641.37 659.39,641.65 659.97,641.93 660.55,642.21 661.12,642.49 661.70,642.77 662.28,643.04 662.86,643.32 663.44,643.59 664.02,643.87 664.60,644.14 665.18,644.41 665.76,644.69 666.34,644.96 666.91,645.23 667.49,645.50 668.07,645.77 668.65,646.03 669.23,646.30 669.81,646.57 670.39,646.83 670.97,647.10 671.55,647.36 672.13,647.63 672.71,647.89 673.28,648.15 673.86,648.41 674.44,648.67 675.02,648.93 675.60,649.19 676.18,649.45 676.76,649.71 677.34,649.96 677.92,650.22 678.50,650.48 679.07,650.73 679.65,650.98 680.23,651.24 680.81,651.49 681.39,651.74 681.97,651.99 682.55,652.24 683.13,652.49 683.71,652.74 684.29,652.99 684.86,653.24 685.44,653.49 686.02,653.73 686.60,653.98 687.18,654.22 687.76,654.47 688.34,654.71 688.92,654.95 689.50,655.20 690.08,655.44 690.65,655.68 691.23,655.92 691.81,656.16 692.39,656.40 692.97,656.63 693.55,656.87 694.13,657.11 694.71,657.34 695.29,657.58 695.87,657.81 696.44,658.05 697.02,658.28 697.60,658.51 698.18,658.75 698.76,658.98 699.34,659.21 699.92,659.44 700.50,659.67 701.08,659.90 701.66,660.12 702.24,660.35 702.81,660.58 703.39,660.80 703.97,661.03 704.55,661.25 705.13,661.48 705.71,661.70 706.29,661.92 706.87,662.15 707.45,662.37 708.03,662.59 708.60,662.81 709.18,663.03 709.76,663.25 710.34,663.47 710.92,663.68 711.50,663.90 712.08,664.12 712.66,664.33 713.24,664.55 713.82,664.76 714.39,664.98 714.97,665.19 715.55,665.40 716.13,665.62 716.71,665.83 717.29,666.04 717.87,666.25 718.45,666.46 719.03,666.67 719.61,666.88 720.18,667.09 720.76,667.29 721.34,667.50 721.92,667.71 722.50,667.91 723.08,668.12 723.66,668.32 724.24,668.53 724.82,668.73 725.40,668.93 725.98,669.13 726.55,669.34 727.13,669.54 727.71,669.74 728.29,669.94 728.87,670.14 729.45,670.33 730.03,670.53 730.61,670.73 731.19,670.93 731.77,671.12 732.34,671.32 732.92,671.51 733.50,671.71 734.08,671.90 734.66,672.10 735.24,672.29 735.82,672.48 736.40,672.67 736.98,672.87 737.56,673.06 738.13,673.25 738.71,673.44 739.29,673.63 739.87,673.81 740.45,674.00 741.03,674.19 741.61,674.38 742.19,674.56 742.77,674.75 743.35,674.94 743.92,675.12 744.50,675.30 745.08,675.49 745.66,675.67 746.24,675.85 746.82,676.04 747.40,676.22 747.98,676.40 748.56,676.58 749.14,676.76 749.72,676.94 750.29,677.12 750.87,677.30 751.45,677.48 752.03,677.65 752.61,677.83 753.19,678.01 753.77,678.18 754.35,678.36 754.93,678.53 755.51,678.71 756.08,678.88 756.66,679.06 757.24,679.23 757.82,679.40 758.40,679.57 758.98,679.74 759.56,679.92 760.14,680.09 760.72,680.26 761.30,680.43 761.87,680.59 762.45,680.76 763.03,680.93 763.61,681.10 764.19,681.27 764.77,681.43 765.35,681.60 765.93,681.76 766.51,681.93 767.09,682.09 767.66,682.26 768.24,682.42 768.82,682.59 769.40,682.75 769.98,682.91 770.56,683.07 771.14,683.24 771.72,683.40 772.30,683.56 772.88,683.72 773.46,683.88 774.03,684.04 774.61,684.19 775.19,684.35 775.77,684.51 776.35,684.67 776.93,684.82 777.51,684.98 778.09,685.14 778.67,685.29 779.25,685.45 779.82,685.60 780.40,685.76 780.98,685.91 781.56,686.06 782.14,686.22 782.72,686.37 783.30,686.52 783.88,686.67 784.46,686.82 785.04,686.98 785.61,687.13 786.19,687.28 786.77,687.43 787.35,687.57 787.93,687.72 788.51,687.87 789.09,688.02 789.67,688.17 790.25,688.31 790.83,688.46 791.40,688.61 791.98,688.75 792.56,688.90 793.14,689.04 793.72,689.19 794.30,689.33 794.88,689.47 795.46,689.62 796.04,689.76 796.62,689.90 797.20,690.04 797.77,690.19 798.35,690.33 798.93,690.47 799.51,690.61 800.09,690.75 800.67,690.89 801.25,691.03 801.83,691.17 802.41,691.30 802.99,691.44 803.56,691.58 804.14,691.72 804.72,691.85 805.30,691.99 805.88,692.13 806.46,692.26 807.04,692.40 807.62,692.53 808.20,692.67 808.78,692.80 809.35,692.93 809.93,693.07 810.51,693.20 811.09,693.33 811.67,693.47 812.25,693.60 812.83,693.73 813.41,693.86 813.99,693.99 814.57,694.12 815.14,694.25 815.72,694.38 816.30,694.51 816.88,694.64 817.46,694.77 818.04,694.90 818.62,695.02 819.20,695.15 819.78,695.28 820.36,695.41 820.94,695.53 821.51,695.66 822.09,695.78 822.67,695.91 823.25,696.03 823.83,696.16 824.41,696.28 824.99,696.41 825.57,696.53 826.15,696.65 826.73,696.78 827.30,696.90 827.88,697.02 828.46,697.14 829.04,697.26 829.62,697.39 830.20,697.51 830.78,697.63 831.36,697.75 831.94,697.87 832.52,697.99 833.09,698.11 833.67,698.22 834.25,698.34 834.83,698.46 835.41,698.58 835.99,698.70 836.57,698.81 837.15,698.93 837.73,699.05 838.31,699.16 838.88,699.28 839.46,699.39 840.04,699.51 840.62,699.62 841.20,699.74 841.78,699.85 842.36,699.97 842.94,700.08 843.52,700.19 844.10,700.31 844.68,700.42 845.25,700.53 845.83,700.64 846.41,700.76 846.99,700.87 847.57,700.98 848.15,701.09 848.73,701.20 849.31,701.31 849.89,701.42 850.47,701.53 851.04,701.64 851.62,701.75 852.20,701.86 852.78,701.96 853.36,702.07 853.94,702.18 854.52,702.29 855.10,702.39 855.68,702.50 856.26,702.61 856.83,702.71 857.41,702.82 857.99,702.93 858.57,703.03 859.15,703.14 859.73,703.24 860.31,703.34 860.89,703.45 861.47,703.55 862.05,703.66 862.62,703.76 863.20,703.86 863.78,703.97 864.36,704.07 864.94,704.17 865.52,704.27 866.10,704.37 866.68,704.48 867.26,704.58 867.84,704.68 868.42,704.78 868.99,704.88 869.57,704.98 870.15,705.08 870.73,705.18 871.31,705.28 871.89,705.37 872.47,705.47 873.05,705.57 873.63,705.67 874.21,705.77 874.78,705.87 875.36,705.96 875.94,706.06 876.52,706.16 877.10,706.25 877.68,706.35 878.26,706.44 878.84,706.54 879.42,706.64 880.00,706.73 880.57,706.83 881.15,706.92 881.73,707.01 882.31,707.11 882.89,707.20 883.47,707.30 884.05,707.39 884.63,707.48 885.21,707.58 885.79,707.67 886.36,707.76 886.94,707.85 887.52,707.94 888.10,708.04 888.68,708.13 889.26,708.22 889.84,708.31 890.42,708.40 891.00,708.49 891.58,708.58 892.16,708.67 892.73,708.76 893.31,708.85 893.89,708.94 894.47,709.03 895.05,709.12 895.63,709.20 896.21,709.29 896.79,709.38 897.37,709.47 897.95,709.55 898.52,709.64 899.10,709.73 899.68,709.82 900.26,709.90 900.84,709.99 901.42,710.07 902.00,710.16 902.58,710.25 903.16,710.33 903.74,710.42 904.31,710.50 904.89,710.59 905.47,710.67 906.05,710.75 906.63,710.84 907.21,710.92 907.79,711.01 908.37,711.09 908.95,711.17 909.53,711.25 910.10,711.34 910.68,711.42 911.26,711.50 911.84,711.58 912.42,711.67 913.00,711.75 913.58,711.83 914.16,711.91 914.74,711.99 915.32,712.07 915.89,712.15 916.47,712.23 917.05,712.31 917.63,712.39 918.21,712.47 918.79,712.55 919.37,712.63 919.95,712.71 920.53,712.79 921.11,712.87 921.69,712.94 922.26,713.02 922.84,713.10 923.42,713.18 924.00,713.25 924.58,713.33 925.16,713.41 925.74,713.49 926.32,713.56 926.90,713.64 927.48,713.71 928.05,713.79 928.63,713.87 929.21,713.94 929.79,714.02 930.37,714.09 930.95,714.17 931.53,714.24 932.11,714.32 932.69,714.39 933.27,714.47 933.84,714.54 934.42,714.61 935.00,714.69 935.58,714.76 936.16,714.83 936.74,714.91 937.32,714.98 937.90,715.05 938.48,715.12 939.06,715.20 939.63,715.27 940.21,715.34 940.79,715.41 941.37,715.48 941.95,715.56 942.53,715.63 943.11,715.70 943.69,715.77 944.27,715.84 944.85,715.91 945.43,715.98 946.00,716.05 946.58,716.12 947.16,716.19 947.74,716.26 948.32,716.33 948.90,716.40 949.48,716.47 950.06,716.53 950.64,716.60 951.22,716.67 951.79,716.74 952.37,716.81 952.95,716.88 953.53,716.94 954.11,717.01 954.69,717.08 955.27,717.15 955.85,717.21 956.43,717.28 957.01,717.35 957.58,717.41 958.16,717.48 958.74,717.54 959.32,717.61 959.90,717.68 960.48,717.74 961.06,717.81 961.64,717.87 962.22,717.94 962.80,718.00 963.37,718.07 963.95,718.13 964.53,718.20 965.11,718.26 965.69,718.32 966.27,718.39 966.85,718.45 967.43,718.52 968.01,718.58 968.59,718.64 969.17,718.70 969.74,718.77 970.32,718.83 970.90,718.89 971.48,718.96 972.06,719.02 972.64,719.08 973.22,719.14 973.80,719.20 974.38,719.26 974.96,719.33 975.53,719.39 976.11,719.45 976.69,719.51 977.27,719.57 977.85,719.63 978.43,719.69 979.01,719.75 979.59,719.81 980.17,719.87 980.75,719.93 981.32,719.99 981.90,720.05 982.48,720.11 983.06,720.17 983.64,720.23 984.22,720.29 984.80,720.35 985.38,720.41 985.96,720.46 986.54,720.52 987.11,720.58 987.69,720.64 988.27,720.70 988.85,720.75 989.43,720.81 990.01,720.87 990.59,720.93 991.17,720.98 991.75,721.04 992.33,721.10 992.91,721.15 993.48,721.21 994.06,721.27 994.64,721.32 995.22,721.38 995.80,721.44 996.38,721.49 996.96,721.55 997.54,721.60 998.12,721.66 998.70,721.71 999.27,721.77 999.85,721.82 1000.43,721.88 1001.01,721.93 1001.59,721.99 1002.17,722.04 1002.75,722.10 1003.33,722.15 1003.91,722.21 1004.49,722.26 1005.06,722.31 1005.64,722.37 1006.22,722.42 1006.80,722.47 1007.38,722.53 1007.96,722.58 1008.54,722.63 1009.12,722.69 1009.70,722.74 1010.28,722.79 1010.85,722.84 1011.43,722.90 1012.01,722.95 1012.59,723.00 1013.17,723.05 1013.75,723.10" fill="none" stroke="#D95319" stroke-width="1.05" stroke-linejoin="round"/>
<polyline points="146.00,748.00 146.00,748.00 146.37,748.00 146.95,748.00 147.53,748.00 148.11,748.00 148.69,748.00 149.27,748.00 149.85,748.00 150.43,748.00 151.00,748.00 151.58,748.00 152.16,748.00 152.74,748.00 153.32,748.00 153.90,748.00 154.48,748.00 155.06,748.00 155.64,748.00 156.22,748.00 156.79,748.00 157.37,748.00 157.95,748.00 158.53,748.00 159.11,748.00 159.69,748.00 160.27,748.00 160.85,748.00 161.43,748.00 162.01,748.00 162.59,748.00 163.16,748.00 163.74,748.00 164.32,748.00 164.90,748.00 165.48,748.00 166.06,748.00 166.64,748.00 167.22,748.00 167.80,748.00 168.38,748.00 168.95,748.00 169.53,748.00 170.11,748.00 170.69,748.00 171.27,748.00 171.85,748.00 172.43,748.00 173.01,748.00 173.59,748.00 174.17,748.00 174.74,748.00 175.32,748.00 175.90,748.00 176.48,748.00 177.06,748.00 177.64,748.00 178.22,748.00 178.80,748.00 179.38,748.00 179.96,748.00 180.53,748.00 181.11,748.00 181.69,748.00 182.27,748.00 182.85,748.00 183.43,748.00 184.01,748.00 184.59,748.00 185.17,748.00 185.75,748.00 186.33,748.00 186.90,748.00 187.48,748.00 188.06,748.00 188.64,748.00 189.22,748.00 189.80,748.00 190.38,748.00 190.96,748.00 191.54,748.00 192.12,748.00 192.69,748.00 193.27,748.00 193.85,748.00 194.43,748.00 195.01,748.00 195.59,748.00 196.17,748.00 196.75,748.00 197.33,748.00 197.91,748.00 198.48,748.00 199.06,748.00 199.64,748.00 200.22,748.00 200.80,748.00 201.38,748.00 201.96,748.00 202.54,748.00 203.12,748.00 203.70,748.00 204.27,748.00 204.85,748.00 205.43,748.00 206.01,748.00 206.59,748.00 207.17,748.00 207.75,748.00 208.33,748.00 208.91,748.00 209.49,748.00 210.07,748.00 210.64,748.00 211.22,748.00 211.80,748.00 212.38,748.00 212.96,748.00 213.54,748.00 214.12,748.00 214.70,748.00 215.28,748.00 215.86,748.00 216.43,747.99 217.01,747.99 217.59,747.99 218.17,747.99 218.75,747.99 219.33,747.99 219.91,747.99 220.49,747.99 221.07,747.98 221.65,747.98 222.22,747.98 222.80,747.98 223.38,747.97 223.96,747.97 224.54,747.97 225.12,747.96 225.70,747.96 226.28,747.96 226.86,747.95 227.44,747.95 228.01,747.94 228.59,747.93 229.17,747.93 229.75,747.92 230.33,747.91 230.91,747.90 231.49,747.89 232.07,747.88 232.65,747.87 233.23,747.86 233.81,747.85 234.38,747.84 234.96,747.82 235.54,747.81 236.12,747.79 236.70,747.78 237.28,747.76 237.86,747.74 238.44,747.72 239.02,747.70 239.60,747.68 240.17,747.65 240.75,747.63 241.33,747.60 241.91,747.57 242.49,747.54 243.07,747.51 243.65,747.48 244.23,747.44 244.81,747.41 245.39,747.37 245.96,747.33 246.54,747.29 247.12,747.24 247.70,747.20 248.28,747.15 248.86,747.10 249.44,747.05 250.02,746.99 250.60,746.94 251.18,746.88 251.75,746.81 252.33,746.75 252.91,746.68 253.49,746.61 254.07,746.54 254.65,746.47 255.23,746.39 255.81,746.31 256.39,746.23 256.97,746.14 257.54,746.05 258.12,745.96 258.70,745.87 259.28,745.77 259.86,745.67 260.44,745.56 261.02,745.45 261.60,745.34 262.18,745.23 262.76,745.11 263.34,744.99 263.91,744.87 264.49,744.74 265.07,744.61 265.65,744.47 266.23,744.33 266.81,744.19 267.39,744.05 267.97,743.90 268.55,743.74 269.13,743.59 269.70,743.43 270.28,743.26 270.86,743.10 271.44,742.92 272.02,742.75 272.60,742.57 273.18,742.39 273.76,742.20 274.34,742.01 274.92,741.81 275.49,741.62 276.07,741.41 276.65,741.21 277.23,741.00 277.81,740.78 278.39,740.56 278.97,740.34 279.55,740.12 280.13,739.89 280.71,739.66 281.28,739.42 281.86,739.18 282.44,738.93 283.02,738.68 283.60,738.43 284.18,738.18 284.76,737.92 285.34,737.65 285.92,737.38 286.50,737.11 287.08,736.84 287.65,736.56 288.23,736.28 288.81,735.99 289.39,735.70 289.97,735.41 290.55,735.12 291.13,734.82 291.71,734.51 292.29,734.21 292.87,733.90 293.44,733.58 294.02,733.27 294.60,732.95 295.18,732.62 295.76,732.30 296.34,731.97 296.92,731.64 297.50,731.30 298.08,730.96 298.66,730.62 299.23,730.28 299.81,729.93 300.39,729.58 300.97,729.23 301.55,728.87 302.13,728.51 302.71,728.15 303.29,727.79 303.87,727.42 304.45,727.06 305.02,726.68 305.60,726.31 306.18,725.94 306.76,725.56 307.34,725.18 307.92,724.80 308.50,724.41 309.08,724.02 309.66,723.64 310.24,723.25 310.82,722.85 311.39,722.46 311.97,722.06 312.55,721.67 313.13,721.27 313.71,720.87 314.29,720.46 314.87,720.06 315.45,719.65 316.03,719.25 316.61,718.84 317.18,718.43 317.76,718.02 318.34,717.61 318.92,717.19 319.50,716.78 320.08,716.36 320.66,715.95 321.24,715.53 321.82,715.11 322.40,714.69 322.97,714.27 323.55,713.85 324.13,713.43 324.71,713.01 325.29,712.59 325.87,712.17 326.45,711.74 327.03,711.32 327.61,710.90 328.19,710.47 328.76,710.05 329.34,709.63 329.92,709.20 330.50,708.78 331.08,708.35 331.66,707.93 332.24,707.50 332.82,707.08 333.40,706.66 333.98,706.23 334.56,705.81 335.13,705.39 335.71,704.96 336.29,704.54 336.87,704.12 337.45,703.70 338.03,703.28 338.61,702.86 339.19,702.44 339.77,702.02 340.35,701.60 340.92,701.19 341.50,700.77 342.08,700.35 342.66,699.94 343.24,699.53 343.82,699.11 344.40,698.70 344.98,698.29 345.56,697.88 346.14,697.47 346.71,697.07 347.29,696.66 347.87,696.25 348.45,695.85 349.03,695.45 349.61,695.05 350.19,694.65 350.77,694.25 351.35,693.85 351.93,693.46 352.50,693.06 353.08,692.67 353.66,692.28 354.24,691.89 354.82,691.50 355.40,691.12 355.98,690.73 356.56,690.35 357.14,689.97 357.72,689.59 358.30,689.22 358.87,688.84 359.45,688.47 360.03,688.10 360.61,687.73 361.19,687.36 361.77,686.99 362.35,686.63 362.93,686.27 363.51,685.91 364.09,685.55 364.66,685.19 365.24,684.84 365.82,684.49 366.40,684.14 366.98,683.79 367.56,683.44 368.14,683.10 368.72,682.76 369.30,682.42 369.88,682.08 370.45,681.75 371.03,681.42 371.61,681.08 372.19,680.76 372.77,680.43 373.35,680.11 373.93,679.79 374.51,679.47 375.09,679.15 375.67,678.84 376.24,678.52 376.82,678.22 377.40,677.91 377.98,677.60 378.56,677.30 379.14,677.00 379.72,676.70 380.30,676.41 380.88,676.11 381.46,675.82 382.04,675.54 382.61,675.25 383.19,674.97 383.77,674.69 384.35,674.41 384.93,674.13 385.51,673.86 386.09,673.59 386.67,673.32 387.25,673.05 387.83,672.79 388.40,672.53 388.98,672.27 389.56,672.01 390.14,671.76 390.72,671.51 391.30,671.26 391.88,671.01 392.46,670.77 393.04,670.53 393.62,670.29 394.19,670.05 394.77,669.82 395.35,669.59 395.93,669.36 396.51,669.13 397.09,668.91 397.67,668.68 398.25,668.46 398.83,668.25 399.41,668.03 399.98,667.82 400.56,667.61 401.14,667.41 401.72,667.20 402.30,667.00 402.88,666.80 403.46,666.60 404.04,666.41 404.62,666.21 405.20,666.02 405.78,665.84 406.35,665.65 406.93,665.47 407.51,665.29 408.09,665.11 408.67,664.94 409.25,664.76 409.83,664.59 410.41,664.42 410.99,664.26 411.57,664.09 412.14,663.93 412.72,663.77 413.30,663.62 413.88,663.46 414.46,663.31 415.04,663.16 415.62,663.01 416.20,662.87 416.78,662.72 417.36,662.58 417.93,662.45 418.51,662.31 419.09,662.18 419.67,662.04 420.25,661.91 420.83,661.79 421.41,661.66 421.99,661.54 422.57,661.42 423.15,661.30 423.72,661.18 424.30,661.07 424.88,660.96 425.46,660.85 426.04,660.74 426.62,660.64 427.20,660.53 427.78,660.43 428.36,660.33 428.94,660.24 429.52,660.14 430.09,660.05 430.67,659.96 431.25,659.87 431.83,659.78 432.41,659.70 432.99,659.61 433.57,659.53 434.15,659.45 434.73,659.38 435.31,659.30 435.88,659.23 436.46,659.16 437.04,659.09 437.62,659.02 438.20,658.96 438.78,658.90 439.36,658.83 439.94,658.77 440.52,658.72 441.10,658.66 441.67,658.61 442.25,658.56 442.83,658.51 443.41,658.46 443.99,658.41 444.57,658.37 445.15,658.32 445.73,658.28 446.31,658.24 446.89,658.20 447.46,658.17 448.04,658.13 448.62,658.10 449.20,658.07 449.78,658.04 450.36,658.01 450.94,657.99 451.52,657.96 452.10,657.94 452.68,657.92 453.26,657.90 453.83,657.88 454.41,657.87 454.99,657.85 455.57,657.84 456.15,657.83 456.73,657.82 457.31,657.81 457.89,657.81 458.47,657.80 459.05,657.80 459.62,657.79 460.20,657.79 460.78,657.80 461.36,657.80 461.94,657.80 462.52,657.81 463.10,657.81 463.68,657.82 464.26,657.83 464.84,657.84 465.41,657.85 465.99,657.87 466.57,657.88 467.15,657.90 467.73,657.92 468.31,657.94 468.89,657.96 469.47,657.98 470.05,658.00 470.63,658.02 471.20,658.05 471.78,658.08 472.36,658.10 472.94,658.13 473.52,658.16 474.10,658.20 474.68,658.23 475.26,658.26 475.84,658.30 476.42,658.34 476.99,658.37 477.57,658.41 478.15,658.45 478.73,658.49 479.31,658.54 479.89,658.58 480.47,658.62 481.05,658.67 481.63,658.72 482.21,658.76 482.79,658.81 483.36,658.86 483.94,658.91 484.52,658.97 485.10,659.02 485.68,659.07 486.26,659.13 486.84,659.18 487.42,659.24 488.00,659.30 488.58,659.36 489.15,659.42 489.73,659.48 490.31,659.54 490.89,659.60 491.47,659.67 492.05,659.73 492.63,659.80 493.21,659.87 493.79,659.93 494.37,660.00 494.94,660.07 495.52,660.14 496.10,660.21 496.68,660.28 497.26,660.36 497.84,660.43 498.42,660.50 499.00,660.58 499.58,660.65 500.16,660.73 500.73,660.81 501.31,660.89 501.89,660.97 502.47,661.05 503.05,661.13 503.63,661.21 504.21,661.29 504.79,661.37 505.37,661.46 505.95,661.54 506.53,661.63 507.10,661.71 507.68,661.80 508.26,661.88 508.84,661.97 509.42,662.06 510.00,662.15 510.58,662.24 511.16,662.33 511.74,662.42 512.32,662.51 512.89,662.60 513.47,662.70 514.05,662.79 514.63,662.88 515.21,662.98 515.79,663.07 516.37,663.17 516.95,663.27 517.53,663.36 518.11,663.46 518.68,663.56 519.26,663.66 519.84,663.76 520.42,663.86 521.00,663.96 521.58,664.06 522.16,664.16 522.74,664.26 523.32,664.36 523.90,664.46 524.47,664.57 525.05,664.67 525.63,664.77 526.21,664.88 526.79,664.98 527.37,665.09 527.95,665.20 528.53,665.30 529.11,665.41 529.69,665.52 530.27,665.62 530.84,665.73 531.42,665.84 532.00,665.95 532.58,666.06 533.16,666.17 533.74,666.28 534.32,666.39 534.90,666.50 535.48,666.61 536.06,666.72 536.63,666.83 537.21,666.94 537.79,667.06 538.37,667.17 538.95,667.28 539.53,667.40 540.11,667.51 540.69,667.62 541.27,667.74 541.85,667.85 542.42,667.97 543.00,668.08 543.58,668.20 544.16,668.32 544.74,668.43 545.32,668.55 545.90,668.67 546.48,668.78 547.06,668.90 547.64,669.02 548.21,669.13 548.79,669.25 549.37,669.37 549.95,669.49 550.53,669.61 551.11,669.73 551.69,669.85 552.27,669.97 552.85,670.09 553.43,670.21 554.01,670.33 554.58,670.45 555.16,670.57 555.74,670.69 556.32,670.81 556.90,670.93 557.48,671.05 558.06,671.17 558.64,671.29 559.22,671.41 559.80,671.54 560.37,671.66 560.95,671.78 561.53,671.90 562.11,672.03 562.69,672.15 563.27,672.27 563.85,672.39 564.43,672.52 565.01,672.64 565.59,672.76 566.16,672.89 566.74,673.01 567.32,673.13 567.90,673.26 568.48,673.38 569.06,673.51 569.64,673.63 570.22,673.75 570.80,673.88 571.38,674.00 571.95,674.13 572.53,674.25 573.11,674.38 573.69,674.50 574.27,674.63 574.85,674.75 575.43,674.88 576.01,675.00 576.59,675.13 577.17,675.25 577.75,675.38 578.32,675.50 578.90,675.63 579.48,675.75 580.06,675.88 580.64,676.00 581.22,676.13 581.80,676.25 582.38,676.38 582.96,676.51 583.54,676.63 584.11,676.76 584.69,676.88 585.27,677.01 585.85,677.13 586.43,677.26 587.01,677.38 587.59,677.51 588.17,677.64 588.75,677.76 589.33,677.89 589.90,678.01 590.48,678.14 591.06,678.26 591.64,678.39 592.22,678.52 592.80,678.64 593.38,678.77 593.96,678.89 594.54,679.02 595.12,679.14 595.69,679.27 596.27,679.39 596.85,679.52 597.43,679.65 598.01,679.77 598.59,679.90 599.17,680.02 599.75,680.15 600.33,680.27 600.91,680.40 601.49,680.52 602.06,680.65 602.64,680.77 603.22,680.90 603.80,681.02 604.38,681.15 604.96,681.27 605.54,681.40 606.12,681.52 606.70,681.65 607.28,681.77 607.85,681.90 608.43,682.02 609.01,682.14 609.59,682.27 610.17,682.39 610.75,682.52 611.33,682.64 611.91,682.76 612.49,682.89 613.07,683.01 613.64,683.14 614.22,683.26 614.80,683.38 615.38,683.51 615.96,683.63 616.54,683.75 617.12,683.88 617.70,684.00 618.28,684.12 618.86,684.25 619.43,684.37 620.01,684.49 620.59,684.61 621.17,684.74 621.75,684.86 622.33,684.98 622.91,685.10 623.49,685.22 624.07,685.35 624.65,685.47 625.23,685.59 625.80,685.71 626.38,685.83 626.96,685.95 627.54,686.08 628.12,686.20 628.70,686.32 629.28,686.44 629.86,686.56 630.44,686.68 631.02,686.80 631.59,686.92 632.17,687.04 632.75,687.16 633.33,687.28 633.91,687.40 634.49,687.52 635.07,687.64 635.65,687.76 636.23,687.88 636.81,688.00 637.38,688.12 637.96,688.24 638.54,688.35 639.12,688.47 639.70,688.59 640.28,688.71 640.86,688.83 641.44,688.95 642.02,689.06 642.60,689.18 643.17,689.30 643.75,689.42 644.33,689.53 644.91,689.65 645.49,689.77 646.07,689.88 646.65,690.00 647.23,690.12 647.81,690.23 648.39,690.35 648.97,690.47 649.54,690.58 650.12,690.70 650.70,690.81 651.28,690.93 651.86,691.04 652.44,691.16 653.02,691.27 653.60,691.39 654.18,691.50 654.76,691.62 655.33,691.73 655.91,691.85 656.49,691.96 657.07,692.07 657.65,692.19 658.23,692.30 658.81,692.41 659.39,692.53 659.97,692.64 660.55,692.75 661.12,692.87 661.70,692.98 662.28,693.09 662.86,693.20 663.44,693.32 664.02,693.43 664.60,693.54 665.18,693.65 665.76,693.76 666.34,693.87 666.91,693.98 667.49,694.09 668.07,694.20 668.65,694.31 669.23,694.43 669.81,694.54 670.39,694.65 670.97,694.75 671.55,694.86 672.13,694.97 672.71,695.08 673.28,695.19 673.86,695.30 674.44,695.41 675.02,695.52 675.60,695.63 676.18,695.73 676.76,695.84 677.34,695.95 677.92,696.06 678.50,696.16 679.07,696.27 679.65,696.38 680.23,696.49 680.81,696.59 681.39,696.70 681.97,696.81 682.55,696.91 683.13,697.02 683.71,697.12 684.29,697.23 684.86,697.33 685.44,697.44 686.02,697.54 686.60,697.65 687.18,697.75 687.76,697.86 688.34,697.96 688.92,698.07 689.50,698.17 690.08,698.27 690.65,698.38 691.23,698.48 691.81,698.58 692.39,698.69 692.97,698.79 693.55,698.89 694.13,699.00 694.71,699.10 695.29,699.20 695.87,699.30 696.44,699.40 697.02,699.50 697.60,699.61 698.18,699.71 698.76,699.81 699.34,699.91 699.92,700.01 700.50,700.11 701.08,700.21 701.66,700.31 702.24,700.41 702.81,700.51 703.39,700.61 703.97,700.71 704.55,700.81 705.13,700.91 705.71,701.00 706.29,701.10 706.87,701.20 707.45,701.30 708.03,701.40 708.60,701.50 709.18,701.59 709.76,701.69 710.34,701.79 710.92,701.88 711.50,701.98 712.08,702.08 712.66,702.17 713.24,702.27 713.82,702.37 714.39,702.46 714.97,702.56 715.55,702.65 716.13,702.75 716.71,702.84 717.29,702.94 717.87,703.03 718.45,703.13 719.03,703.22 719.61,703.32 720.18,703.41 720.76,703.51 721.34,703.60 721.92,703.69 722.50,703.79 723.08,703.88 723.66,703.97 724.24,704.06 724.82,704.16 725.40,704.25 725.98,704.34 726.55,704.43 727.13,704.53 727.71,704.62 728.29,704.71 728.87,704.80 729.45,704.89 730.03,704.98 730.61,705.07 731.19,705.16 731.77,705.25 732.34,705.34 732.92,705.43 733.50,705.52 734.08,705.61 734.66,705.70 735.24,705.79 735.82,705.88 736.40,705.97 736.98,706.06 737.56,706.15 738.13,706.24 738.71,706.32 739.29,706.41 739.87,706.50 740.45,706.59 741.03,706.67 741.61,706.76 742.19,706.85 742.77,706.94 743.35,707.02 743.92,707.11 744.50,707.19 745.08,707.28 745.66,707.37 746.24,707.45 746.82,707.54 747.40,707.62 747.98,707.71 748.56,707.79 749.14,707.88 749.72,707.96 750.29,708.05 750.87,708.13 751.45,708.22 752.03,708.30 752.61,708.38 753.19,708.47 753.77,708.55 754.35,708.63 754.93,708.72 755.51,708.80 756.08,708.88 756.66,708.97 757.24,709.05 757.82,709.13 758.40,709.21 758.98,709.29 759.56,709.38 760.14,709.46 760.72,709.54 761.30,709.62 761.87,709.70 762.45,709.78 763.03,709.86 763.61,709.94 764.19,710.02 764.77,710.10 765.35,710.18 765.93,710.26 766.51,710.34 767.09,710.42 767.66,710.50 768.24,710.58 768.82,710.66 769.40,710.74 769.98,710.82 770.56,710.90 771.14,710.97 771.72,711.05 772.30,711.13 772.88,711.21 773.46,711.28 774.03,711.36 774.61,711.44 775.19,711.52 775.77,711.59 776.35,711.67 776.93,711.75 777.51,711.82 778.09,711.90 778.67,711.98 779.25,712.05 779.82,712.13 780.40,712.20 780.98,712.28 781.56,712.35 782.14,712.43 782.72,712.50 783.30,712.58 783.88,712.65 784.46,712.73 785.04,712.80 785.61,712.87 786.19,712.95 786.77,713.02 787.35,713.10 787.93,713.17 788.51,713.24 789.09,713.32 789.67,713.39 790.25,713.46 790.83,713.53 791.40,713.61 791.98,713.68 792.56,713.75 793.14,713.82 793.72,713.89 794.30,713.97 794.88,714.04 795.46,714.11 796.04,714.18 796.62,714.25 797.20,714.32 797.77,714.39 798.35,714.46 798.93,714.53 799.51,714.60 800.09,714.67 800.67,714.74 801.25,714.81 801.83,714.88 802.41,714.95 802.99,715.02 803.56,715.09 804.14,715.16 804.72,715.23 805.30,715.30 805.88,715.37 806.46,715.43 807.04,715.50 807.62,715.57 808.20,715.64 808.78,715.71 809.35,715.77 809.93,715.84 810.51,715.91 811.09,715.98 811.67,716.04 812.25,716.11 812.83,716.18 813.41,716.24 813.99,716.31 814.57,716.37 815.14,716.44 815.72,716.51 816.30,716.57 816.88,716.64 817.46,716.70 818.04,716.77 818.62,716.83 819.20,716.90 819.78,716.96 820.36,717.03 820.94,717.09 821.51,717.16 822.09,717.22 822.67,717.29 823.25,717.35 823.83,717.41 824.41,717.48 824.99,717.54 825.57,717.60 826.15,717.67 826.73,717.73 827.30,717.79 827.88,717.86 828.46,717.92 829.04,717.98 829.62,718.04 830.20,718.11 830.78,718.17 831.36,718.23 831.94,718.29 832.52,718.35 833.09,718.42 833.67,718.48 834.25,718.54 834.83,718.60 835.41,718.66 835.99,718.72 836.57,718.78 837.15,718.84 837.73,718.90 838.31,718.96 838.88,719.02 839.46,719.08 840.04,719.14 840.62,719.20 841.20,719.26 841.78,719.32 842.36,719.38 842.94,719.44 843.52,719.50 844.10,719.56 844.68,719.62 845.25,719.68 845.83,719.74 846.41,719.79 846.99,719.85 847.57,719.91 848.15,719.97 848.73,720.03 849.31,720.08 849.89,720.14 850.47,720.20 851.04,720.26 851.62,720.31 852.20,720.37 852.78,720.43 853.36,720.48 853.94,720.54 854.52,720.60 855.10,720.65 855.68,720.71 856.26,720.77 856.83,720.82 857.41,720.88 857.99,720.93 858.57,720.99 859.15,721.05 859.73,721.10 860.31,721.16 860.89,721.21 861.47,721.27 862.05,721.32 862.62,721.38 863.20,721.43 863.78,721.49 864.36,721.54 864.94,721.59 865.52,721.65 866.10,721.70 866.68,721.76 867.26,721.81 867.84,721.86 868.42,721.92 868.99,721.97 869.57,722.02 870.15,722.08 870.73,722.13 871.31,722.18 871.89,722.24 872.47,722.29 873.05,722.34 873.63,722.39 874.21,722.45 874.78,722.50 875.36,722.55 875.94,722.60 876.52,722.65 877.10,722.71 877.68,722.76 878.26,722.81 878.84,722.86 879.42,722.91 880.00,722.96 880.57,723.01 881.15,723.06 881.73,723.11 882.31,723.17 882.89,723.22 883.47,723.27 884.05,723.32 884.63,723.37 885.21,723.42 885.79,723.47 886.36,723.52 886.94,723.57 887.52,723.62 888.10,723.67 888.68,723.71 889.26,723.76 889.84,723.81 890.42,723.86 891.00,723.91 891.58,723.96 892.16,724.01 892.73,724.06 893.31,724.11 893.89,724.15 894.47,724.20 895.05,724.25 895.63,724.30 896.21,724.35 896.79,724.39 897.37,724.44 897.95,724.49 898.52,724.54 899.10,724.58 899.68,724.63 900.26,724.68 900.84,724.73 901.42,724.77 902.00,724.82 902.58,724.87 903.16,724.91 903.74,724.96 904.31,725.01 904.89,725.05 905.47,725.10 906.05,725.14 906.63,725.19 907.21,725.24 907.79,725.28 908.37,725.33 908.95,725.37 909.53,725.42 910.10,725.46 910.68,725.51 911.26,725.55 911.84,725.60 912.42,725.64 913.00,725.69 913.58,725.73 914.16,725.78 914.74,725.82 915.32,725.87 915.89,725.91 916.47,725.96 917.05,726.00 917.63,726.04 918.21,726.09 918.79,726.13 919.37,726.18 919.95,726.22 920.53,726.26 921.11,726.31 921.69,726.35 922.26,726.39 922.84,726.44 923.42,726.48 924.00,726.52 924.58,726.56 925.16,726.61 925.74,726.65 926.32,726.69 926.90,726.73 927.48,726.78 928.05,726.82 928.63,726.86 929.21,726.90 929.79,726.95 930.37,726.99 930.95,727.03 931.53,727.07 932.11,727.11 932.69,727.15 933.27,727.20 933.84,727.24 934.42,727.28 935.00,727.32 935.58,727.36 936.16,727.40 936.74,727.44 937.32,727.48 937.90,727.52 938.48,727.56 939.06,727.60 939.63,727.64 940.21,727.68 940.79,727.72 941.37,727.76 941.95,727.80 942.53,727.84 943.11,727.88 943.69,727.92 944.27,727.96 944.85,728.00 945.43,728.04 946.00,728.08 946.58,728.12 947.16,728.16 947.74,728.20 948.32,728.24 948.90,728.28 949.48,728.32 950.06,728.35 950.64,728.39 951.22,728.43 951.79,728.47 952.37,728.51 952.95,728.55 953.53,728.58 954.11,728.62 954.69,728.66 955.27,728.70 955.85,728.74 956.43,728.77 957.01,728.81 957.58,728.85 958.16,728.89 958.74,728.92 959.32,728.96 959.90,729.00 960.48,729.04 961.06,729.07 961.64,729.11 962.22,729.15 962.80,729.18 963.37,729.22 963.95,729.26 964.53,729.29 965.11,729.33 965.69,729.37 966.27,729.40 966.85,729.44 967.43,729.48 968.01,729.51 968.59,729.55 969.17,729.58 969.74,729.62 970.32,729.65 970.90,729.69 971.48,729.73 972.06,729.76 972.64,729.80 973.22,729.83 973.80,729.87 974.38,729.90 974.96,729.94 975.53,729.97 976.11,730.01 976.69,730.04 977.27,730.08 977.85,730.11 978.43,730.15 979.01,730.18 979.59,730.22 980.17,730.25 980.75,730.28 981.32,730.32 981.90,730.35 982.48,730.39 983.06,730.42 983.64,730.45 984.22,730.49 984.80,730.52 985.38,730.56 985.96,730.59 986.54,730.62 987.11,730.66 987.69,730.69 988.27,730.72 988.85,730.76 989.43,730.79 990.01,730.82 990.59,730.86 991.17,730.89 991.75,730.92 992.33,730.95 992.91,730.99 993.48,731.02 994.06,731.05 994.64,731.09 995.22,731.12 995.80,731.15 996.38,731.18 996.96,731.21 997.54,731.25 998.12,731.28 998.70,731.31 999.27,731.34 999.85,731.37 1000.43,731.41 1001.01,731.44 1001.59,731.47 1002.17,731.50 1002.75,731.53 1003.33,731.56 1003.91,731.60 1004.49,731.63 1005.06,731.66 1005.64,731.69 1006.22,731.72 1006.80,731.75 1007.38,731.78 1007.96,731.81 1008.54,731.84 1009.12,731.87 1009.70,731.90 1010.28,731.94 1010.85,731.97 1011.43,732.00 1012.01,732.03 1012.59,732.06 1013.17,732.09 1013.75,732.12" fill="none" stroke="#EDB120" stroke-width="1.05" stroke-linejoin="round"/>
</g>
<polyline points="146.00,748.00 146.00,748.00 146.37,748.00 146.95,748.00 147.53,748.00 148.11,748.00 148.69,748.00 149.27,748.00 149.85,748.00 150.43,748.00 151.00,748.00 151.58,748.00 152.16,748.00 152.74,748.00 153.32,748.00 153.90,748.00 154.48,748.00 155.06,748.00 155.64,748.00 156.22,748.00 156.79,748.00 157.37,748.00 157.95,748.00 158.53,748.00 159.11,748.00 159.69,748.00 160.27,748.00 160.85,748.00 161.43,748.00 162.01,748.00 162.59,748.00 163.16,748.00 163.74,748.00 164.32,748.00 164.90,748.00 165.48,748.00 166.06,748.00 166.64,748.00 167.22,748.00 167.80,748.00 168.38,748.00 168.95,748.00 169.53,748.00 170.11,748.00 170.69,748.00 171.27,748.00 171.85,748.00 172.43,748.00 173.01,748.00 173.59,748.00 174.17,748.00 174.74,748.00 175.32,748.00 175.90,748.00 176.48,748.00 177.06,748.00 177.64,748.00 178.22,748.00 178.80,748.00 179.38,748.00 179.96,748.00 180.53,748.00 181.11,748.00 181.69,748.00 182.27,748.00 182.85,748.00 183.43,748.00 184.01,748.00 184.59,748.00 185.17,748.00 185.75,748.00 186.33,748.00 186.90,748.00 187.48,748.00 188.06,748.00 188.64,748.00 189.22,748.00 189.80,748.00 190.38,748.00 190.96,748.00 191.54,748.00 192.12,748.00 192.69,748.00 193.27,748.00 193.85,748.00 194.43,748.00 195.01,748.00 195.59,748.00 196.17,748.00 196.75,748.00 197.33,748.00 197.91,748.00 198.48,748.00 199.06,748.00 199.64,748.00 200.22,748.00 200.80,748.00 201.38,748.00 201.96,748.00 202.54,748.00 203.12,748.00 203.70,748.00 204.27,748.00 204.85,748.00 205.43,748.00 206.01,748.00 206.59,748.00 207.17,748.00 207.75,748.00 208.33,748.00 208.91,748.00 209.49,748.00 210.07,748.00 210.64,748.00 211.22,748.00 211.80,748.00 212.38,748.00 212.96,748.00 213.54,748.00 214.12,748.00 214.70,748.00 215.28,748.00 215.86,748.00 216.43,748.00 217.01,748.00 217.59,748.00 218.17,748.00 218.75,748.00 219.33,748.00 219.91,748.00 220.49,748.00 221.07,748.00 221.65,748.00 222.22,748.00 222.80,748.00 223.38,748.00 223.96,748.00 224.54,748.00 225.12,748.00 225.70,748.00 226.28,748.00 226.86,748.00 227.44,748.00 228.01,748.00 228.59,748.00 229.17,748.00 229.75,748.00 230.33,748.00 230.91,748.00 231.49,748.00 232.07,748.00 232.65,748.00 233.23,748.00 233.81,748.00 234.38,748.00 234.96,748.00 235.54,748.00 236.12,748.00 236.70,748.00 237.28,748.00 237.86,748.00 238.44,748.00 239.02,748.00 239.60,748.00 240.17,748.00 240.75,748.00 241.33,748.00 241.91,748.00 242.49,748.00 243.07,748.00 243.65,748.00 244.23,748.00 244.81,748.00 245.39,748.00 245.96,748.00 246.54,748.00 247.12,748.00 247.70,748.00 248.28,747.99 248.86,747.99 249.44,747.99 250.02,747.99 250.60,747.99 251.18,747.99 251.75,747.99 252.33,747.99 252.91,747.99 253.49,747.99 254.07,747.99 254.65,747.99 255.23,747.99 255.81,747.99 256.39,747.98 256.97,747.98 257.54,747.98 258.12,747.98 258.70,747.98 259.28,747.98 259.86,747.98 260.44,747.97 261.02,747.97 261.60,747.97 262.18,747.97 262.76,747.97 263.34,747.96 263.91,747.96 264.49,747.96 265.07,747.96 265.65,747.95 266.23,747.95 266.81,747.95 267.39,747.95 267.97,747.94 268.55,747.94 269.13,747.93 269.70,747.93 270.28,747.93 270.86,747.92 271.44,747.92 272.02,747.91 272.60,747.91 273.18,747.91 273.76,747.90 274.34,747.90 274.92,747.89 275.49,747.88 276.07,747.88 276.65,747.87 277.23,747.87 277.81,747.86 278.39,747.85 278.97,747.85 279.55,747.84 280.13,747.83 280.71,747.82 281.28,747.82 281.86,747.81 282.44,747.80 283.02,747.79 283.60,747.78 284.18,747.77 284.76,747.76 285.34,747.75 285.92,747.74 286.50,747.73 287.08,747.72 287.65,747.71 288.23,747.70 288.81,747.68 289.39,747.67 289.97,747.66 290.55,747.65 291.13,747.63 291.71,747.62 292.29,747.60 292.87,747.59 293.44,747.57 294.02,747.56 294.60,747.54 295.18,747.53 295.76,747.51 296.34,747.49 296.92,747.48 297.50,747.46 298.08,747.44 298.66,747.42 299.23,747.40 299.81,747.38 300.39,747.36 300.97,747.34 301.55,747.32 302.13,747.30 302.71,747.28 303.29,747.26 303.87,747.23 304.45,747.21 305.02,747.19 305.60,747.16 306.18,747.14 306.76,747.11 307.34,747.09 307.92,747.06 308.50,747.04 309.08,747.01 309.66,746.98 310.24,746.95 310.82,746.93 311.39,746.90 311.97,746.87 312.55,746.84 313.13,746.81 313.71,746.78 314.29,746.74 314.87,746.71 315.45,746.68 316.03,746.65 316.61,746.61 317.18,746.58 317.76,746.54 318.34,746.51 318.92,746.47 319.50,746.44 320.08,746.40 320.66,746.36 321.24,746.33 321.82,746.29 322.40,746.25 322.97,746.21 323.55,746.17 324.13,746.13 324.71,746.09 325.29,746.05 325.87,746.01 326.45,745.96 327.03,745.92 327.61,745.88 328.19,745.83 328.76,745.79 329.34,745.75 329.92,745.70 330.50,745.65 331.08,745.61 331.66,745.56 332.24,745.51 332.82,745.47 333.40,745.42 333.98,745.37 334.56,745.32 335.13,745.27 335.71,745.22 336.29,745.17 336.87,745.12 337.45,745.07 338.03,745.01 338.61,744.96 339.19,744.91 339.77,744.85 340.35,744.80 340.92,744.75 341.50,744.69 342.08,744.64 342.66,744.58 343.24,744.52 343.82,744.47 344.40,744.41 344.98,744.35 345.56,744.29 346.14,744.24 346.71,744.18 347.29,744.12 347.87,744.06 348.45,744.00 349.03,743.94 349.61,743.88 350.19,743.82 350.77,743.75 351.35,743.69 351.93,743.63 352.50,743.57 353.08,743.50 353.66,743.44 354.24,743.38 354.82,743.31 355.40,743.25 355.98,743.18 356.56,743.12 357.14,743.05 357.72,742.99 358.30,742.92 358.87,742.85 359.45,742.79 360.03,742.72 360.61,742.65 361.19,742.59 361.77,742.52 362.35,742.45 362.93,742.38 363.51,742.31 364.09,742.24 364.66,742.17 365.24,742.10 365.82,742.03 366.40,741.96 366.98,741.89 367.56,741.82 368.14,741.75 368.72,741.68 369.30,741.61 369.88,741.54 370.45,741.47 371.03,741.40 371.61,741.32 372.19,741.25 372.77,741.18 373.35,741.11 373.93,741.03 374.51,740.96 375.09,740.89 375.67,740.81 376.24,740.74 376.82,740.67 377.40,740.59 377.98,740.52 378.56,740.44 379.14,740.37 379.72,740.30 380.30,740.22 380.88,740.15 381.46,740.07 382.04,740.00 382.61,739.92 383.19,739.85 383.77,739.77 384.35,739.70 384.93,739.62 385.51,739.55 386.09,739.47 386.67,739.40 387.25,739.32 387.83,739.25 388.40,739.17 388.98,739.10 389.56,739.02 390.14,738.95 390.72,738.87 391.30,738.79 391.88,738.72 392.46,738.64 393.04,738.57 393.62,738.49 394.19,738.42 394.77,738.34 395.35,738.27 395.93,738.19 396.51,738.12 397.09,738.04 397.67,737.96 398.25,737.89 398.83,737.81 399.41,737.74 399.98,737.66 400.56,737.59 401.14,737.51 401.72,737.44 402.30,737.36 402.88,737.29 403.46,737.22 404.04,737.14 404.62,737.07 405.20,736.99 405.78,736.92 406.35,736.84 406.93,736.77 407.51,736.70 408.09,736.62 408.67,736.55 409.25,736.47 409.83,736.40 410.41,736.33 410.99,736.25 411.57,736.18 412.14,736.11 412.72,736.04 413.30,735.96 413.88,735.89 414.46,735.82 415.04,735.75 415.62,735.67 416.20,735.60 416.78,735.53 417.36,735.46 417.93,735.39 418.51,735.32 419.09,735.25 419.67,735.18 420.25,735.11 420.83,735.04 421.41,734.97 421.99,734.90 422.57,734.83 423.15,734.76 423.72,734.69 424.30,734.62 424.88,734.55 425.46,734.48 426.04,734.41 426.62,734.34 427.20,734.28 427.78,734.21 428.36,734.14 428.94,734.07 429.52,734.01 430.09,733.94 430.67,733.87 431.25,733.81 431.83,733.74 432.41,733.68 432.99,733.61 433.57,733.55 434.15,733.48 434.73,733.42 435.31,733.35 435.88,733.29 436.46,733.22 437.04,733.16 437.62,733.10 438.20,733.03 438.78,732.97 439.36,732.91 439.94,732.85 440.52,732.78 441.10,732.72 441.67,732.66 442.25,732.60 442.83,732.54 443.41,732.48 443.99,732.42 444.57,732.36 445.15,732.30 445.73,732.24 446.31,732.18 446.89,732.12 447.46,732.06 448.04,732.01 448.62,731.95 449.20,731.89 449.78,731.83 450.36,731.78 450.94,731.72 451.52,731.66 452.10,731.61 452.68,731.55 453.26,731.50 453.83,731.44 454.41,731.39 454.99,731.33 455.57,731.28 456.15,731.22 456.73,731.17 457.31,731.12 457.89,731.06 458.47,731.01 459.05,730.96 459.62,730.91 460.20,730.86 460.78,730.81 461.36,730.75 461.94,730.70 462.52,730.65 463.10,730.60 463.68,730.55 464.26,730.50 464.84,730.46 465.41,730.41 465.99,730.36 466.57,730.31 467.15,730.26 467.73,730.22 468.31,730.17 468.89,730.12 469.47,730.08 470.05,730.03 470.63,729.98 471.20,729.94 471.78,729.89 472.36,729.85 472.94,729.80 473.52,729.76 474.10,729.72 474.68,729.67 475.26,729.63 475.84,729.59 476.42,729.55 476.99,729.50 477.57,729.46 478.15,729.42 478.73,729.38 479.31,729.34 479.89,729.30 480.47,729.26 481.05,729.22 481.63,729.18 482.21,729.14 482.79,729.10 483.36,729.06 483.94,729.02 484.52,728.99 485.10,728.95 485.68,728.91 486.26,728.88 486.84,728.84 487.42,728.80 488.00,728.77 488.58,728.73 489.15,728.70 489.73,728.66 490.31,728.63 490.89,728.59 491.47,728.56 492.05,728.53 492.63,728.49 493.21,728.46 493.79,728.43 494.37,728.39 494.94,728.36 495.52,728.33 496.10,728.30 496.68,728.27 497.26,728.24 497.84,728.21 498.42,728.18 499.00,728.15 499.58,728.12 500.16,728.09 500.73,728.06 501.31,728.03 501.89,728.00 502.47,727.98 503.05,727.95 503.63,727.92 504.21,727.89 504.79,727.87 505.37,727.84 505.95,727.82 506.53,727.79 507.10,727.76 507.68,727.74 508.26,727.71 508.84,727.69 509.42,727.67 510.00,727.64 510.58,727.62 511.16,727.60 511.74,727.57 512.32,727.55 512.89,727.53 513.47,727.50 514.05,727.48 514.63,727.46 515.21,727.44 515.79,727.42 516.37,727.40 516.95,727.38 517.53,727.36 518.11,727.34 518.68,727.32 519.26,727.30 519.84,727.28 520.42,727.26 521.00,727.24 521.58,727.23 522.16,727.21 522.74,727.19 523.32,727.17 523.90,727.16 524.47,727.14 525.05,727.12 525.63,727.11 526.21,727.09 526.79,727.08 527.37,727.06 527.95,727.05 528.53,727.03 529.11,727.02 529.69,727.00 530.27,726.99 530.84,726.97 531.42,726.96 532.00,726.95 532.58,726.93 533.16,726.92 533.74,726.91 534.32,726.90 534.90,726.89 535.48,726.87 536.06,726.86 536.63,726.85 537.21,726.84 537.79,726.83 538.37,726.82 538.95,726.81 539.53,726.80 540.11,726.79 540.69,726.78 541.27,726.77 541.85,726.76 542.42,726.75 543.00,726.75 543.58,726.74 544.16,726.73 544.74,726.72 545.32,726.71 545.90,726.71 546.48,726.70 547.06,726.69 547.64,726.69 548.21,726.68 548.79,726.67 549.37,726.67 549.95,726.66 550.53,726.66 551.11,726.65 551.69,726.65 552.27,726.64 552.85,726.64 553.43,726.63 554.01,726.63 554.58,726.63 555.16,726.62 555.74,726.62 556.32,726.62 556.90,726.61 557.48,726.61 558.06,726.61 558.64,726.61 559.22,726.60 559.80,726.60 560.37,726.60 560.95,726.60 561.53,726.60 562.11,726.60 562.69,726.60 563.27,726.59 563.85,726.59 564.43,726.59 565.01,726.59 565.59,726.59 566.16,726.59 566.74,726.59 567.32,726.60 567.90,726.60 568.48,726.60 569.06,726.60 569.64,726.60 570.22,726.60 570.80,726.60 571.38,726.61 571.95,726.61 572.53,726.61 573.11,726.61 573.69,726.62 574.27,726.62 574.85,726.62 575.43,726.62 576.01,726.63 576.59,726.63 577.17,726.64 577.75,726.64 578.32,726.64 578.90,726.65 579.48,726.65 580.06,726.66 580.64,726.66 581.22,726.67 581.80,726.67 582.38,726.68 582.96,726.68 583.54,726.69 584.11,726.69 584.69,726.70 585.27,726.71 585.85,726.71 586.43,726.72 587.01,726.73 587.59,726.73 588.17,726.74 588.75,726.75 589.33,726.75 589.90,726.76 590.48,726.77 591.06,726.78 591.64,726.79 592.22,726.79 592.80,726.80 593.38,726.81 593.96,726.82 594.54,726.83 595.12,726.84 595.69,726.84 596.27,726.85 596.85,726.86 597.43,726.87 598.01,726.88 598.59,726.89 599.17,726.90 599.75,726.91 600.33,726.92 600.91,726.93 601.49,726.94 602.06,726.95 602.64,726.96 603.22,726.97 603.80,726.98 604.38,726.99 604.96,727.00 605.54,727.02 606.12,727.03 606.70,727.04 607.28,727.05 607.85,727.06 608.43,727.07 609.01,727.09 609.59,727.10 610.17,727.11 610.75,727.12 611.33,727.13 611.91,727.15 612.49,727.16 613.07,727.17 613.64,727.18 614.22,727.20 614.80,727.21 615.38,727.22 615.96,727.24 616.54,727.25 617.12,727.26 617.70,727.28 618.28,727.29 618.86,727.30 619.43,727.32 620.01,727.33 620.59,727.35 621.17,727.36 621.75,727.37 622.33,727.39 622.91,727.40 623.49,727.42 624.07,727.43 624.65,727.45 625.23,727.46 625.80,727.48 626.38,727.49 626.96,727.51 627.54,727.52 628.12,727.54 628.70,727.55 629.28,727.57 629.86,727.58 630.44,727.60 631.02,727.62 631.59,727.63 632.17,727.65 632.75,727.66 633.33,727.68 633.91,727.70 634.49,727.71 635.07,727.73 635.65,727.75 636.23,727.76 636.81,727.78 637.38,727.80 637.96,727.81 638.54,727.83 639.12,727.85 639.70,727.86 640.28,727.88 640.86,727.90 641.44,727.91 642.02,727.93 642.60,727.95 643.17,727.97 643.75,727.98 644.33,728.00 644.91,728.02 645.49,728.04 646.07,728.06 646.65,728.07 647.23,728.09 647.81,728.11 648.39,728.13 648.97,728.15 649.54,728.16 650.12,728.18 650.70,728.20 651.28,728.22 651.86,728.24 652.44,728.26 653.02,728.27 653.60,728.29 654.18,728.31 654.76,728.33 655.33,728.35 655.91,728.37 656.49,728.39 657.07,728.41 657.65,728.43 658.23,728.44 658.81,728.46 659.39,728.48 659.97,728.50 660.55,728.52 661.12,728.54 661.70,728.56 662.28,728.58 662.86,728.60 663.44,728.62 664.02,728.64 664.60,728.66 665.18,728.68 665.76,728.70 666.34,728.72 666.91,728.74 667.49,728.76 668.07,728.78 668.65,728.80 669.23,728.82 669.81,728.84 670.39,728.86 670.97,728.88 671.55,728.90 672.13,728.92 672.71,728.94 673.28,728.96 673.86,728.98 674.44,729.00 675.02,729.02 675.60,729.04 676.18,729.06 676.76,729.08 677.34,729.10 677.92,729.12 678.50,729.15 679.07,729.17 679.65,729.19 680.23,729.21 680.81,729.23 681.39,729.25 681.97,729.27 682.55,729.29 683.13,729.31 683.71,729.33 684.29,729.35 684.86,729.38 685.44,729.40 686.02,729.42 686.60,729.44 687.18,729.46 687.76,729.48 688.34,729.50 688.92,729.52 689.50,729.55 690.08,729.57 690.65,729.59 691.23,729.61 691.81,729.63 692.39,729.65 692.97,729.67 693.55,729.70 694.13,729.72 694.71,729.74 695.29,729.76 695.87,729.78 696.44,729.80 697.02,729.83 697.60,729.85 698.18,729.87 698.76,729.89 699.34,729.91 699.92,729.93 700.50,729.96 701.08,729.98 701.66,730.00 702.24,730.02 702.81,730.04 703.39,730.07 703.97,730.09 704.55,730.11 705.13,730.13 705.71,730.15 706.29,730.17 706.87,730.20 707.45,730.22 708.03,730.24 708.60,730.26 709.18,730.28 709.76,730.31 710.34,730.33 710.92,730.35 711.50,730.37 712.08,730.40 712.66,730.42 713.24,730.44 713.82,730.46 714.39,730.48 714.97,730.51 715.55,730.53 716.13,730.55 716.71,730.57 717.29,730.60 717.87,730.62 718.45,730.64 719.03,730.66 719.61,730.68 720.18,730.71 720.76,730.73 721.34,730.75 721.92,730.77 722.50,730.80 723.08,730.82 723.66,730.84 724.24,730.86 724.82,730.88 725.40,730.91 725.98,730.93 726.55,730.95 727.13,730.97 727.71,731.00 728.29,731.02 728.87,731.04 729.45,731.06 730.03,731.09 730.61,731.11 731.19,731.13 731.77,731.15 732.34,731.18 732.92,731.20 733.50,731.22 734.08,731.24 734.66,731.26 735.24,731.29 735.82,731.31 736.40,731.33 736.98,731.35 737.56,731.38 738.13,731.40 738.71,731.42 739.29,731.44 739.87,731.47 740.45,731.49 741.03,731.51 741.61,731.53 742.19,731.56 742.77,731.58 743.35,731.60 743.92,731.62 744.50,731.64 745.08,731.67 745.66,731.69 746.24,731.71 746.82,731.73 747.40,731.76 747.98,731.78 748.56,731.80 749.14,731.82 749.72,731.85 750.29,731.87 750.87,731.89 751.45,731.91 752.03,731.93 752.61,731.96 753.19,731.98 753.77,732.00 754.35,732.02 754.93,732.05 755.51,732.07 756.08,732.09 756.66,732.11 757.24,732.14 757.82,732.16 758.40,732.18 758.98,732.20 759.56,732.22 760.14,732.25 760.72,732.27 761.30,732.29 761.87,732.31 762.45,732.33 763.03,732.36 763.61,732.38 764.19,732.40 764.77,732.42 765.35,732.45 765.93,732.47 766.51,732.49 767.09,732.51 767.66,732.53 768.24,732.56 768.82,732.58 769.40,732.60 769.98,732.62 770.56,732.64 771.14,732.67 771.72,732.69 772.30,732.71 772.88,732.73 773.46,732.75 774.03,732.78 774.61,732.80 775.19,732.82 775.77,732.84 776.35,732.86 776.93,732.88 777.51,732.91 778.09,732.93 778.67,732.95 779.25,732.97 779.82,732.99 780.40,733.02 780.98,733.04 781.56,733.06 782.14,733.08 782.72,733.10 783.30,733.12 783.88,733.15 784.46,733.17 785.04,733.19 785.61,733.21 786.19,733.23 786.77,733.25 787.35,733.28 787.93,733.30 788.51,733.32 789.09,733.34 789.67,733.36 790.25,733.38 790.83,733.40 791.40,733.43 791.98,733.45 792.56,733.47 793.14,733.49 793.72,733.51 794.30,733.53 794.88,733.55 795.46,733.58 796.04,733.60 796.62,733.62 797.20,733.64 797.77,733.66 798.35,733.68 798.93,733.70 799.51,733.73 800.09,733.75 800.67,733.77 801.25,733.79 801.83,733.81 802.41,733.83 802.99,733.85 803.56,733.87 804.14,733.89 804.72,733.92 805.30,733.94 805.88,733.96 806.46,733.98 807.04,734.00 807.62,734.02 808.20,734.04 808.78,734.06 809.35,734.08 809.93,734.10 810.51,734.13 811.09,734.15 811.67,734.17 812.25,734.19 812.83,734.21 813.41,734.23 813.99,734.25 814.57,734.27 815.14,734.29 815.72,734.31 816.30,734.33 816.88,734.35 817.46,734.37 818.04,734.39 818.62,734.42 819.20,734.44 819.78,734.46 820.36,734.48 820.94,734.50 821.51,734.52 822.09,734.54 822.67,734.56 823.25,734.58 823.83,734.60 824.41,734.62 824.99,734.64 825.57,734.66 826.15,734.68 826.73,734.70 827.30,734.72 827.88,734.74 828.46,734.76 829.04,734.78 829.62,734.80 830.20,734.82 830.78,734.84 831.36,734.86 831.94,734.88 832.52,734.90 833.09,734.92 833.67,734.94 834.25,734.96 834.83,734.98 835.41,735.00 835.99,735.02 836.57,735.04 837.15,735.06 837.73,735.08 838.31,735.10 838.88,735.12 839.46,735.14 840.04,735.16 840.62,735.18 841.20,735.20 841.78,735.22 842.36,735.24 842.94,735.26 843.52,735.28 844.10,735.30 844.68,735.32 845.25,735.34 845.83,735.36 846.41,735.38 846.99,735.40 847.57,735.42 848.15,735.44 848.73,735.45 849.31,735.47 849.89,735.49 850.47,735.51 851.04,735.53 851.62,735.55 852.20,735.57 852.78,735.59 853.36,735.61 853.94,735.63 854.52,735.65 855.10,735.67 855.68,735.69 856.26,735.71 856.83,735.72 857.41,735.74 857.99,735.76 858.57,735.78 859.15,735.80 859.73,735.82 860.31,735.84 860.89,735.86 861.47,735.88 862.05,735.89 862.62,735.91 863.20,735.93 863.78,735.95 864.36,735.97 864.94,735.99 865.52,736.01 866.10,736.03 866.68,736.04 867.26,736.06 867.84,736.08 868.42,736.10 868.99,736.12 869.57,736.14 870.15,736.16 870.73,736.17 871.31,736.19 871.89,736.21 872.47,736.23 873.05,736.25 873.63,736.27 874.21,736.29 874.78,736.30 875.36,736.32 875.94,736.34 876.52,736.36 877.10,736.38 877.68,736.39 878.26,736.41 878.84,736.43 879.42,736.45 880.00,736.47 880.57,736.49 881.15,736.50 881.73,736.52 882.31,736.54 882.89,736.56 883.47,736.58 884.05,736.59 884.63,736.61 885.21,736.63 885.79,736.65 886.36,736.66 886.94,736.68 887.52,736.70 888.10,736.72 888.68,736.74 889.26,736.75 889.84,736.77 890.42,736.79 891.00,736.81 891.58,736.82 892.16,736.84 892.73,736.86 893.31,736.88 893.89,736.89 894.47,736.91 895.05,736.93 895.63,736.95 896.21,736.96 896.79,736.98 897.37,737.00 897.95,737.02 898.52,737.03 899.10,737.05 899.68,737.07 900.26,737.08 900.84,737.10 901.42,737.12 902.00,737.14 902.58,737.15 903.16,737.17 903.74,737.19 904.31,737.20 904.89,737.22 905.47,737.24 906.05,737.26 906.63,737.27 907.21,737.29 907.79,737.31 908.37,737.32 908.95,737.34 909.53,737.36 910.10,737.37 910.68,737.39 911.26,737.41 911.84,737.42 912.42,737.44 913.00,737.46 913.58,737.47 914.16,737.49 914.74,737.51 915.32,737.52 915.89,737.54 916.47,737.56 917.05,737.57 917.63,737.59 918.21,737.61 918.79,737.62 919.37,737.64 919.95,737.66 920.53,737.67 921.11,737.69 921.69,737.70 922.26,737.72 922.84,737.74 923.42,737.75 924.00,737.77 924.58,737.79 925.16,737.80 925.74,737.82 926.32,737.83 926.90,737.85 927.48,737.87 928.05,737.88 928.63,737.90 929.21,737.91 929.79,737.93 930.37,737.95 930.95,737.96 931.53,737.98 932.11,737.99 932.69,738.01 933.27,738.03 933.84,738.04 934.42,738.06 935.00,738.07 935.58,738.09 936.16,738.10 936.74,738.12 937.32,738.14 937.90,738.15 938.48,738.17 939.06,738.18 939.63,738.20 940.21,738.21 940.79,738.23 941.37,738.24 941.95,738.26 942.53,738.28 943.11,738.29 943.69,738.31 944.27,738.32 944.85,738.34 945.43,738.35 946.00,738.37 946.58,738.38 947.16,738.40 947.74,738.41 948.32,738.43 948.90,738.44 949.48,738.46 950.06,738.47 950.64,738.49 951.22,738.50 951.79,738.52 952.37,738.53 952.95,738.55 953.53,738.56 954.11,738.58 954.69,738.59 955.27,738.61 955.85,738.62 956.43,738.64 957.01,738.65 957.58,738.67 958.16,738.68 958.74,738.70 959.32,738.71 959.90,738.73 960.48,738.74 961.06,738.76 961.64,738.77 962.22,738.79 962.80,738.80 963.37,738.81 963.95,738.83 964.53,738.84 965.11,738.86 965.69,738.87 966.27,738.89 966.85,738.90 967.43,738.92 968.01,738.93 968.59,738.94 969.17,738.96 969.74,738.97 970.32,738.99 970.90,739.00 971.48,739.02 972.06,739.03 972.64,739.04 973.22,739.06 973.80,739.07 974.38,739.09 974.96,739.10 975.53,739.12 976.11,739.13 976.69,739.14 977.27,739.16 977.85,739.17 978.43,739.19 979.01,739.20 979.59,739.21 980.17,739.23 980.75,739.24 981.32,739.25 981.90,739.27 982.48,739.28 983.06,739.30 983.64,739.31 984.22,739.32 984.80,739.34 985.38,739.35 985.96,739.36 986.54,739.38 987.11,739.39 987.69,739.41 988.27,739.42 988.85,739.43 989.43,739.45 990.01,739.46 990.59,739.47 991.17,739.49 991.75,739.50 992.33,739.51 992.91,739.53 993.48,739.54 994.06,739.55 994.64,739.57 995.22,739.58 995.80,739.59 996.38,739.61 996.96,739.62 997.54,739.63 998.12,739.65 998.70,739.66 999.27,739.67 999.85,739.69 1000.43,739.70 1001.01,739.71 1001.59,739.73 1002.17,739.74 1002.75,739.75 1003.33,739.76 1003.91,739.78 1004.49,739.79 1005.06,739.80 1005.64,739.82 1006.22,739.83 1006.80,739.84 1007.38,739.86 1007.96,739.87 1008.54,739.88 1009.12,739.89 1009.70,739.91 1010.28,739.92 1010.85,739.93 1011.43,739.94 1012.01,739.96 1012.59,739.97 1013.17,739.98 1013.75,740.00" fill="none" stroke="#7E2F8E" stroke-width="1.05" stroke-linejoin="round"/>
<path d="M355.36,63.00 L355.36,63.00 L356.06,74.34 L356.60,83.00 M357.37,95.00 L357.38,95.20 L358.10,106.11 L358.69,115.00 M359.51,127.00 L359.52,127.23 L360.25,137.71 L360.91,147.00 M361.78,159.00 L361.78,159.01 L362.53,169.06 L363.28,178.97 L363.28,179.00 M364.21,191.00 L364.22,191.16 L364.98,200.77 L365.75,210.24 L365.81,211.00 M366.81,223.00 L366.81,223.05 L367.59,232.22 L368.38,241.25 L368.53,243.00 M369.61,255.00 L369.61,255.00 L370.41,263.72 L371.21,272.31 L371.47,275.00 M372.63,287.00 L372.64,287.04 L373.46,295.30 L374.29,303.44 L374.65,307.00 M375.92,319.00 L375.94,319.17 L376.78,326.96 L377.64,334.64 L378.13,339.00 M379.52,351.00 L379.53,351.13 L380.40,358.46 L381.28,365.67 L381.95,371.00 M383.48,383.00 L383.49,383.07 L384.39,389.91 L385.30,396.66 L386.17,403.00 M387.88,415.00 L387.88,415.00 L388.82,421.36 L389.76,427.63 L390.71,433.79 L390.90,435.00 M392.82,447.00 L392.83,447.03 L393.80,452.90 L394.79,458.67 L395.78,464.36 L396.25,467.00 M398.44,479.00 L398.46,479.12 L399.48,484.48 L400.51,489.76 L401.55,494.95 L402.38,499.00 M404.92,511.00 L404.95,511.11 L406.02,515.96 L407.10,520.72 L408.19,525.40 L409.29,530.01 L409.53,531.00 M412.55,543.00 L412.57,543.05 L413.70,547.36 L414.85,551.60 L416.01,555.76 L417.17,559.86 L418.09,563.00 M421.76,575.00 L421.79,575.08 L423.01,578.84 L424.23,582.54 L425.47,586.17 L426.72,589.74 L427.98,593.24 L428.63,595.00 M433.29,607.00 L433.31,607.05 L434.63,610.24 L435.96,613.37 L437.31,616.45 L438.67,619.47 L440.04,622.44 L441.42,625.35 L442.22,627.00 M448.48,639.00 L448.50,639.04 L449.97,641.64 L451.45,644.19 L452.94,646.69 L454.45,649.14 L455.97,651.54 L457.51,653.89 L459.06,656.20 L460.63,658.47 L461.01,659.00 M470.27,671.00 L470.30,671.04 L471.98,673.00 L473.69,674.93 L475.40,676.81 L477.14,678.66 L478.90,680.47 L480.67,682.24 L482.47,683.97 L484.28,685.67 L486.11,687.33 L487.96,688.95 L489.43,690.20 M501.43,699.31 L501.47,699.34 L503.49,700.70 L505.54,702.03 L507.61,703.33 L509.70,704.60 L511.82,705.84 L513.96,707.05 L516.13,708.24 L518.33,709.40 L520.55,710.53 L521.43,710.96 M533.43,716.35 L533.43,716.35 L535.83,717.32 L538.27,718.26 L540.74,719.17 L543.23,720.07 L545.76,720.94 L548.32,721.79 L550.92,722.62 L553.43,723.39" fill="none" stroke="#77AC30" stroke-width="1.05"/>
<g font-family="'Liberation Sans', Arial, Helvetica, sans-serif" fill="#262626">
<defs><clipPath id="c1" clipPathUnits="userSpaceOnUse"><path d="M-1,-17 H6.95 V1 H4.9 V-2.4 H-1 Z"/></clipPath></defs>
<g font-size="20">
<text x="140.24" y="776.30">0</text>
<text x="218.70" y="776.30">0.2</text>
<text x="305.50" y="776.30">0.4</text>
<text x="392.30" y="776.30">0.6</text>
<text x="479.10" y="776.30">0.8</text>
<text transform="translate(574.24,776.30)" clip-path="url(#c1)">1</text>
<text transform="translate(652.70,776.30)" clip-path="url(#c1)">1</text><text x="663.82" y="776.30">.2</text>
<text transform="translate(739.50,776.30)" clip-path="url(#c1)">1</text><text x="750.62" y="776.30">.4</text>
<text transform="translate(826.30,776.30)" clip-path="url(#c1)">1</text><text x="837.42" y="776.30">.6</text>
<text transform="translate(913.10,776.30)" clip-path="url(#c1)">1</text><text x="924.22" y="776.30">.8</text>
<text x="1008.24" y="776.30">2</text>
<text x="126.18" y="755.80">0</text>
<text transform="translate(126.18,687.30)" clip-path="url(#c1)">1</text>
<text x="126.18" y="618.80">2</text>
<text x="126.18" y="550.30">3</text>
<text x="126.18" y="481.80">4</text>
<text x="126.18" y="413.30">5</text>
<text x="126.18" y="344.80">6</text>
<text x="126.18" y="276.30">7</text>
<text x="126.18" y="207.80">8</text>
<text x="126.18" y="139.30">9</text>
<text transform="translate(115.06,70.80)" clip-path="url(#c1)">1</text><text x="126.18" y="70.80">0</text>
</g>
<text x="580" y="54.9" font-size="22.25" font-weight="bold" text-anchor="middle" fill="#000">Planck's law</text>
<text x="495.73" y="804.3" font-size="22">Wavelength (</text><text transform="translate(625,804.3) scale(1.21,1)" font-family="'Liberation Serif', 'DejaVu Serif', serif" font-style="italic" font-size="20.7">μ</text><text x="637.6" y="804.3" font-size="22">m)</text>
<text transform="translate(104.3,405) rotate(-90)" font-size="21.88" text-anchor="middle">Intensity (arb. units)</text>
</g>
<rect x="854.5" y="83.5" width="140" height="122" fill="#fff" stroke="#262626" stroke-width="1"/>
<line x1="862" y1="98.5" x2="922.5" y2="98.5" stroke="#0072BD" stroke-width="1.05"/>
<line x1="862" y1="121.5" x2="922.5" y2="121.5" stroke="#D95319" stroke-width="1.05"/>
<line x1="862" y1="144.5" x2="922.5" y2="144.5" stroke="#EDB120" stroke-width="1.05"/>
<line x1="862" y1="167.5" x2="922.5" y2="167.5" stroke="#7E2F8E" stroke-width="1.05"/>
<line x1="862" y1="190.5" x2="914" y2="190.5" stroke="#77AC30" stroke-width="1.05" stroke-dasharray="20 12"/>
<g font-family="'Liberation Sans', Arial, Helvetica, sans-serif" font-size="18.2" fill="#000">
<text x="928" y="104.9">6000 K</text>
<text x="928" y="127.9">5000 K</text>
<text x="928" y="150.9">4000 K</text>
<text x="928" y="173.9">3000 K</text>
<text x="928" y="196.9">peak</text>
</g>
</svg>
</body></html>
